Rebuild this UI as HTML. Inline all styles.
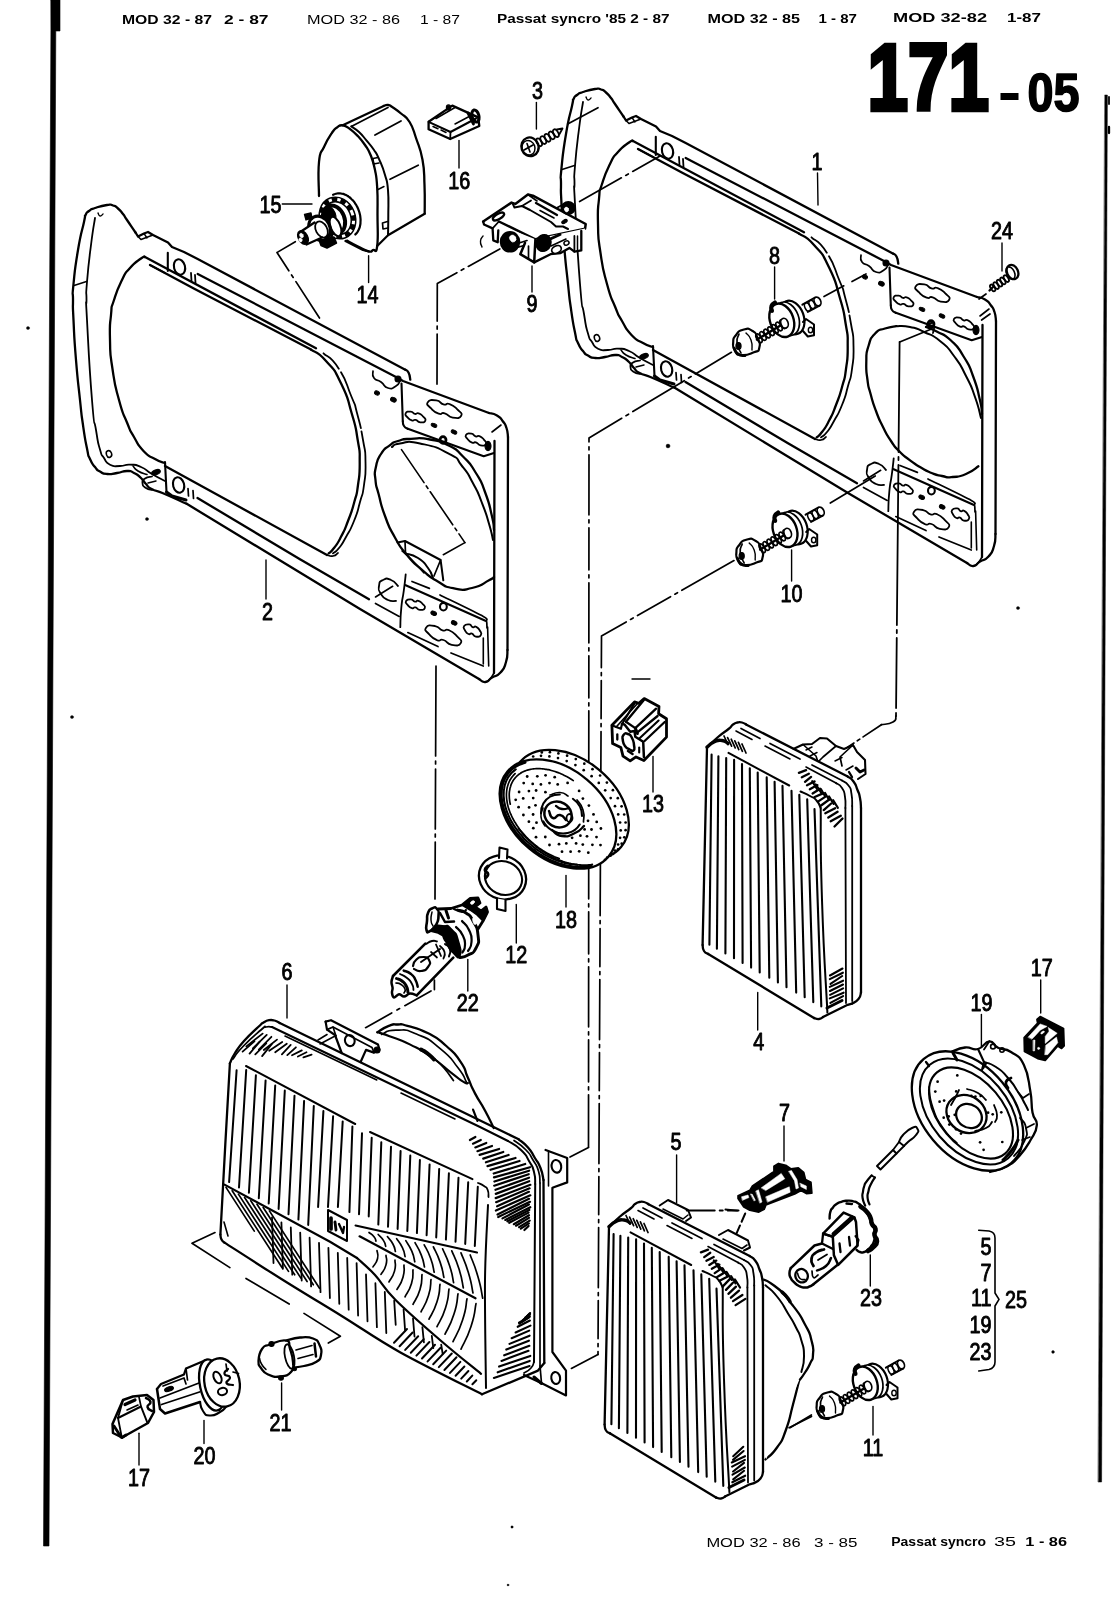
<!DOCTYPE html>
<html><head><meta charset="utf-8"><title>171-05</title>
<style>
html,body{margin:0;padding:0;background:#fff;}
body{width:1113px;height:1600px;overflow:hidden;font-family:"Liberation Sans",sans-serif;}
svg{display:block;}
svg text{font-family:"Liberation Sans",sans-serif;fill:#000;}
.lb{font-weight:normal;}
</style></head><body>
<svg width="1113" height="1600" viewBox="0 0 1113 1600" fill="none">
<rect x="0" y="0" width="1113" height="1600" fill="#fff" stroke="none"/>
<defs><filter id="soft" x="0" y="0" width="1113" height="1600" filterUnits="userSpaceOnUse"><feGaussianBlur stdDeviation="0.4"/></filter></defs>
<g stroke="#000" stroke-linecap="round" stroke-linejoin="round" fill="none" filter="url(#soft)">
<path d="M51 0 L60 0 L60 31 L55.8 31 L49 1546 L43.5 1546 L50.9 31 Z" fill="#000" stroke-width="0.6"/>
<path d="M1105 95 L1107.4 95 L1101.6 1482 L1098.4 1482 Z" fill="#000" stroke-width="0.5"/>
<path d="M1109 97 L1109 104" stroke-width="1.8" fill="none" />
<path d="M1109 127 L1109 133" stroke-width="2.3" fill="none" />
<text x="122" y="24.4" font-size="12.5" font-weight="bold" textLength="90" lengthAdjust="spacingAndGlyphs" class="hd" stroke="none">MOD 32 - 87</text>
<text x="224" y="24.4" font-size="12.5" font-weight="bold" textLength="44.5" lengthAdjust="spacingAndGlyphs" class="hd" stroke="none">2 - 87</text>
<text x="307" y="23.8" font-size="12.5" font-weight="normal" textLength="93" lengthAdjust="spacingAndGlyphs" class="hd" stroke="none">MOD 32 - 86</text>
<text x="420" y="23.8" font-size="12.5" font-weight="normal" textLength="40" lengthAdjust="spacingAndGlyphs" class="hd" stroke="none">1 - 87</text>
<text x="497" y="23.2" font-size="12.5" font-weight="bold" textLength="172.5" lengthAdjust="spacingAndGlyphs" class="hd" stroke="none">Passat syncro '85  2 - 87</text>
<text x="707.5" y="22.6" font-size="12.5" font-weight="bold" textLength="92.5" lengthAdjust="spacingAndGlyphs" class="hd" stroke="none">MOD 32 - 85</text>
<text x="818.5" y="22.6" font-size="12.5" font-weight="bold" textLength="38.5" lengthAdjust="spacingAndGlyphs" class="hd" stroke="none">1 - 87</text>
<text x="893" y="21.8" font-size="12.5" font-weight="bold" textLength="94" lengthAdjust="spacingAndGlyphs" class="hd" stroke="none">MOD 32-82</text>
<text x="1007" y="21.8" font-size="12.5" font-weight="bold" textLength="34" lengthAdjust="spacingAndGlyphs" class="hd" stroke="none">1-87</text>
<text x="867.5" y="109.8" font-size="95" font-weight="bold" textLength="121.5" lengthAdjust="spacingAndGlyphs" class="hd" stroke-width="4.5" stroke-linejoin="miter">171</text>
<path d="M1000.5 96.5 L1018.5 96.5" stroke-width="7" stroke-linecap="butt"/>
<text x="1027.5" y="111.2" font-size="53" font-weight="bold" textLength="52" lengthAdjust="spacingAndGlyphs" class="hd" stroke-width="1.6">05</text>
<text x="706.4" y="1547.2" font-size="12.5" font-weight="normal" textLength="94.3" lengthAdjust="spacingAndGlyphs" class="hd" stroke="none">MOD 32 - 86</text>
<text x="814" y="1547" font-size="12.5" font-weight="normal" textLength="43.5" lengthAdjust="spacingAndGlyphs" class="hd" stroke="none">3 - 85</text>
<text x="891.3" y="1546.3" font-size="12.5" font-weight="bold" textLength="94.7" lengthAdjust="spacingAndGlyphs" class="hd" stroke="none">Passat syncro</text>
<text x="994" y="1546" font-size="12.5" font-weight="normal" textLength="22" lengthAdjust="spacingAndGlyphs" class="hd" stroke="none">35</text>
<text x="1025.3" y="1546" font-size="12.5" font-weight="bold" textLength="41.7" lengthAdjust="spacingAndGlyphs" class="hd" stroke="none">1 - 86</text>
<text transform="translate(817 169.7) scale(0.86 1)" text-anchor="middle" font-size="23" class="lb" stroke-width="0.9">1</text>
<path d="M817.5 173 L818 205" stroke-width="1.4"/>
<text transform="translate(267.5 619.8) scale(0.86 1)" text-anchor="middle" font-size="23" class="lb" stroke-width="0.9">2</text>
<path d="M266 560 L266 599" stroke-width="1.4"/>
<text transform="translate(537.5 98.7) scale(0.86 1)" text-anchor="middle" font-size="23" class="lb" stroke-width="0.9">3</text>
<path d="M536.4 102.5 L536.4 129" stroke-width="1.4"/>
<text transform="translate(758.8 1050.2) scale(0.86 1)" text-anchor="middle" font-size="23" class="lb" stroke-width="0.9">4</text>
<path d="M757.7 992.4 L757.7 1030" stroke-width="1.4"/>
<text transform="translate(676 1150.2) scale(0.86 1)" text-anchor="middle" font-size="23" class="lb" stroke-width="0.9">5</text>
<path d="M676.6 1155 L676.6 1202.5" stroke-width="1.4"/>
<text transform="translate(287 980.2) scale(0.86 1)" text-anchor="middle" font-size="23" class="lb" stroke-width="0.9">6</text>
<path d="M287 985 L287 1018" stroke-width="1.4"/>
<text transform="translate(784.5 1121.2) scale(0.86 1)" text-anchor="middle" font-size="23" class="lb" stroke-width="0.9">7</text>
<path d="M784 1126 L784 1161" stroke-width="1.4"/>
<text transform="translate(774.6 263.5) scale(0.86 1)" text-anchor="middle" font-size="23" class="lb" stroke-width="0.9">8</text>
<path d="M774.6 267 L774.6 299" stroke-width="1.4"/>
<text transform="translate(532 312.2) scale(0.86 1)" text-anchor="middle" font-size="23" class="lb" stroke-width="0.9">9</text>
<path d="M532 266 L532 292" stroke-width="1.4"/>
<text transform="translate(791.6 602.2) scale(0.86 1)" text-anchor="middle" font-size="23" class="lb" stroke-width="0.9">10</text>
<path d="M791.6 550 L791.6 581" stroke-width="1.4"/>
<text transform="translate(873 1456) scale(0.86 1)" text-anchor="middle" font-size="23" class="lb" stroke-width="0.9">11</text>
<path d="M873 1406.5 L873 1435" stroke-width="1.4"/>
<text transform="translate(516.3 963.2) scale(0.86 1)" text-anchor="middle" font-size="23" class="lb" stroke-width="0.9">12</text>
<path d="M516.3 904.5 L516.3 943" stroke-width="1.4"/>
<text transform="translate(653 812.2) scale(0.86 1)" text-anchor="middle" font-size="23" class="lb" stroke-width="0.9">13</text>
<path d="M653 756.5 L653 792" stroke-width="1.4"/>
<text transform="translate(367.5 302.8) scale(0.86 1)" text-anchor="middle" font-size="23" class="lb" stroke-width="0.9">14</text>
<path d="M368.6 255.7 L368.6 282.5" stroke-width="1.4"/>
<text transform="translate(270.5 213.2) scale(0.86 1)" text-anchor="middle" font-size="23" class="lb" stroke-width="0.9">15</text>
<path d="M282.3 204 L312 204" stroke-width="1.4"/>
<text transform="translate(459.2 188.5) scale(0.86 1)" text-anchor="middle" font-size="23" class="lb" stroke-width="0.9">16</text>
<path d="M459 140.4 L459 168" stroke-width="1.4"/>
<text transform="translate(1041.8 976.2) scale(0.86 1)" text-anchor="middle" font-size="23" class="lb" stroke-width="0.9">17</text>
<path d="M1040.7 980 L1040.7 1013" stroke-width="1.4"/>
<text transform="translate(139 1485.9) scale(0.86 1)" text-anchor="middle" font-size="23" class="lb" stroke-width="0.9">17</text>
<path d="M139 1433.3 L139 1465" stroke-width="1.4"/>
<text transform="translate(566 927.7) scale(0.86 1)" text-anchor="middle" font-size="23" class="lb" stroke-width="0.9">18</text>
<path d="M566 875.5 L566 907" stroke-width="1.4"/>
<text transform="translate(981.4 1010.7) scale(0.86 1)" text-anchor="middle" font-size="23" class="lb" stroke-width="0.9">19</text>
<path d="M981.4 1014.5 L981.4 1047.5" stroke-width="1.4"/>
<text transform="translate(204.5 1463.7) scale(0.86 1)" text-anchor="middle" font-size="23" class="lb" stroke-width="0.9">20</text>
<path d="M204 1420.5 L204 1443.5" stroke-width="1.4"/>
<text transform="translate(280.4 1431) scale(0.86 1)" text-anchor="middle" font-size="23" class="lb" stroke-width="0.9">21</text>
<path d="M281.6 1383 L281.6 1410" stroke-width="1.4"/>
<text transform="translate(467.8 1010.7) scale(0.86 1)" text-anchor="middle" font-size="23" class="lb" stroke-width="0.9">22</text>
<path d="M467.8 959.4 L467.8 991" stroke-width="1.4"/>
<text transform="translate(871 1306.2) scale(0.86 1)" text-anchor="middle" font-size="23" class="lb" stroke-width="0.9">23</text>
<path d="M870.3 1255 L870.3 1286" stroke-width="1.4"/>
<text transform="translate(1002 239.2) scale(0.86 1)" text-anchor="middle" font-size="23" class="lb" stroke-width="0.9">24</text>
<path d="M1002 243 L1002 271" stroke-width="1.4"/>
<text transform="translate(991.5 1254.7) scale(0.86 1)" text-anchor="end" font-size="23" class="lb" stroke-width="0.9">5</text>
<text transform="translate(991.5 1281.2) scale(0.86 1)" text-anchor="end" font-size="23" class="lb" stroke-width="0.9">7</text>
<text transform="translate(991.5 1306.2) scale(0.86 1)" text-anchor="end" font-size="23" class="lb" stroke-width="0.9">11</text>
<text transform="translate(991.5 1332.7) scale(0.86 1)" text-anchor="end" font-size="23" class="lb" stroke-width="0.9">19</text>
<text transform="translate(991.5 1360.4) scale(0.86 1)" text-anchor="end" font-size="23" class="lb" stroke-width="0.9">23</text>
<text transform="translate(1016 1307.6) scale(0.86 1)" text-anchor="middle" font-size="23" class="lb" stroke-width="0.9">25</text>
<path d="M978.7 1230.2 L989 1231 Q995 1232 995 1238 L995 1293 L999 1299.4 L995 1306 L995 1362 Q995 1368 989 1369.5 L978.7 1371" stroke-width="1.6"/>
<circle cx="28" cy="328" r="1.6" fill="#000" stroke-width="0.3"/>
<circle cx="72" cy="717" r="1.6" fill="#000" stroke-width="0.3"/>
<circle cx="147" cy="519" r="1.6" fill="#000" stroke-width="0.3"/>
<circle cx="668" cy="446" r="2.0" fill="#000" stroke-width="0.3"/>
<circle cx="1018" cy="608" r="1.6" fill="#000" stroke-width="0.3"/>
<circle cx="1053" cy="1352" r="1.4" fill="#000" stroke-width="0.3"/>
<circle cx="512" cy="1527" r="1.2" fill="#000" stroke-width="0.3"/>
<circle cx="508" cy="1585" r="1.0" fill="#000" stroke-width="0.3"/>
<path d="M632 679 L650 679" stroke-width="1.4" fill="none" />
<g transform="translate(0 0)">
<path d="M186.7 503.8 C178.6 500.2 174.1 497.9 162.4 493 C150.7 488.1 157.1 492 151.6 489 C146.1 486 149.5 487.7 146 484 C142.5 480.3 145 481.7 141 478 C137 474.3 138.7 475.3 134 473 C129.3 470.7 132.7 471 127 471 C121.3 471 123.7 472 117 473 C110.3 474 112.7 474.5 107 474 C101.3 473.5 104 473.8 100 471.5 C96 469.2 98.3 471.2 95 467 C91.7 462.8 92.7 465.2 90 459 C87.3 452.8 89.3 459.8 87 448.5 C84.7 437.2 85.3 441.2 83 425 C80.7 408.8 82.3 421.7 80 400 C77.7 378.3 78.2 386.7 76 360 C73.8 333.3 74.5 340 73.5 320 C72.5 300 73 312 73 300 C73 288 71.8 300.7 73.5 284 C75.2 267.3 74.5 270.7 78 250 C81.5 229.3 81.5 233.7 84 222 C86.5 210.3 83.9 218.7 85.6 215 C87.3 211.3 85.9 213.3 89 211 C92.1 208.7 89 210 95 208 C101 206 101 205.8 107 205 C113 204.2 109.3 204.3 113 205.5 C116.7 206.7 114.7 205.7 118 208.5 C121.3 211.3 120 210.2 123 214 C126 217.8 122.8 213.8 127 220 C131.2 226.2 132.7 228.3 135.5 232.5" stroke-width="2.3" fill="none" />
<path d="M135.5 232.5 L138 236.5 L144 233.5 L148 232 L153 235 L168 242.5 L172 247 L184 252 L197.7 259 L405.3 369.7" stroke-width="2.3" fill="none" />
<path d="M138 236.5 L141 239.5 L153 235" stroke-width="1.6" fill="none" />
<path d="M144 233.5 L147 238" stroke-width="1.4" fill="none" />
<path d="M405.3 369.7 C406.4 370.6 406.8 369.2 408.5 372.5 C410.2 375.8 409.7 377.3 410.3 379.7" stroke-width="2.3" fill="none" />
<path d="M197.7 274 L396.5 377.2 L403 381 L489 413" stroke-width="2.3" fill="none" />
<path d="M489 413 C491.7 413.8 492.5 412.8 497 415.5 C501.5 418.2 499.4 416.8 502.6 421 C505.8 425.2 504.7 422.7 506.5 428 C508.3 433.3 507.5 434 508 437" stroke-width="2.3" fill="none" />
<path d="M508 437 L507.5 650" stroke-width="2.3" fill="none" />
<path d="M507.5 650 C507 654 508.3 654.5 506 662 C503.7 669.5 505.2 667.3 500.5 672.5 C495.8 677.7 497 674.3 492 677.5 C487 680.7 489.7 681.5 485.4 682 C481.1 682.5 481.1 680 479 679" stroke-width="2.3" fill="none" />
<path d="M479 679 L360 609 L186.7 503.8" stroke-width="2.3" fill="none" />
<path d="M494.5 441 L494 673" stroke-width="2.3" fill="none" />
<path d="M494 673 C492.7 675 492.9 676 490 679 C487.1 682 486.9 681 485.4 682" stroke-width="1.7" fill="none" />
<path d="M492 432 L501 425" stroke-width="1.6" fill="none" />
<path d="M95 218 C93.7 227 93.7 223.7 91 245 C88.3 266.3 88.5 263.7 87 282 C85.5 300.3 86.5 287.3 86.5 300 C86.5 312.7 85.2 286.7 87 320 C88.8 353.3 89 363.3 92 400 C95 436.7 93.3 413.5 96 430 C98.7 446.5 97.3 440.2 100 449.5 C102.7 458.8 100.7 452.9 104 458 C107.3 463.1 104.7 462 110 464.7 C115.3 467.4 113.3 466 120 466 C126.7 466 123 464.4 130 464.7 C137 465 133.7 463.9 141 467 C148.3 470.1 144 469.3 152 474 C160 478.7 160.7 478.7 165 481" stroke-width="1.8" fill="none" />
<path d="M74 285.5 L86.5 281.5" stroke-width="1.6" fill="none" />
<ellipse cx="109" cy="454" rx="2.6" ry="3.4" transform="rotate(-20 109 454)" stroke-width="1.5" fill="none" />
<path d="M98 213 C98.7 214 98.3 215.7 100 216 C101.7 216.3 102 214.7 103 214" stroke-width="1.4" fill="none" />
<path d="M145 257 C143.7 257.5 146 254.8 141 258.5 C136 262.2 136.3 260.8 130 268 C123.7 275.2 127.3 269.3 122 280 C116.7 290.7 117.7 288.3 114 300 C110.3 311.7 112.3 301.7 111 315 C109.7 328.3 109.5 322 110 340 C110.5 358 109.5 349 112.5 369 C115.5 389 114.2 382.2 119 400 C123.8 417.8 122 410.2 127 422.5 C132 434.8 128.5 427.5 134 437 C139.5 446.5 136.5 443.7 143.5 451 C150.5 458.3 147.8 454.9 155 459 C162.2 463.1 161.7 461.9 165 463.3" stroke-width="2.3" fill="none" />
<path d="M145 257 L316 348.3" stroke-width="2.3" fill="none" />
<path d="M150 265 L195.2 289.2 L311 349.6" stroke-width="2.3" fill="none" />
<path d="M311 349.6 C316 353.4 316 349.6 326 360.9 C336 372.2 332.6 366.1 341.1 383.5 C349.6 400.9 346.1 394.2 351.6 413 C357.1 431.8 355 423.8 357.7 440 C360.4 456.2 359.6 446.7 359.7 461.7 C359.8 476.7 359.8 471.6 358 485 C356.2 498.4 357.6 490 354.3 502 C351 514 352.5 509.3 348 521 C343.5 532.7 345.6 528 340.9 537 C336.2 546 338.1 542.5 334 548 C329.9 553.5 330.5 551.6 328.7 553.4" stroke-width="2.3" fill="none" />
<path d="M323.5 353.3 C328.5 358.3 329.4 354.2 338.6 368.4 C347.8 382.6 345.1 381.1 351.2 396 C357.3 410.9 353.1 398.3 357 413 C360.9 427.7 360.2 423.8 363 440 C365.8 456.2 365.2 446.7 365.5 461.7 C365.8 476.7 365.8 471.6 364 485 C362.2 498.4 363.3 490 360 502 C356.7 514 358.7 509.3 354 521 C349.3 532.7 351 528 346 537 C341 546 343.3 542.5 339 548 C334.7 553.5 335 551.6 333 553.4" stroke-width="1.8" fill="none" stroke-dasharray="22 4 60 3 200"/>
<path d="M165 466 L327 555" stroke-width="2.3" fill="none" />
<path d="M327 555 C329 555.3 329.3 556.7 333 556 C336.7 555.3 336.3 554 338 553" stroke-width="1.7" fill="none" />
<path d="M197.5 498 L300 559.3 L369 599.2" stroke-width="2.3" fill="none" />
<path d="M167.8 252.8 L167.8 271" stroke-width="2.1" fill="none" />
<ellipse cx="179.5" cy="267" rx="5.5" ry="7.8" transform="rotate(-15 179.5 267)" stroke-width="2.1" fill="none" />
<path d="M191 273 L191.5 281" stroke-width="1.8" fill="none" />
<path d="M195 275 L195.5 283" stroke-width="1.8" fill="none" />
<path d="M150 265 L165 273" stroke-width="1.8" fill="none" />
<path d="M165 462 L166.5 492" stroke-width="2.1" fill="none" />
<ellipse cx="178.6" cy="485" rx="5.5" ry="7.8" transform="rotate(-15 178.6 485)" stroke-width="2.1" fill="none" />
<path d="M188 488.5 L188.5 496" stroke-width="1.7" fill="none" />
<path d="M193 490.5 L193.5 498.5" stroke-width="1.7" fill="none" />
<ellipse cx="156" cy="472.3" rx="4.5" ry="2.4" transform="rotate(-20 156 472.3)" stroke-width="1.1" fill="#000" />
<path d="M152 476.5 C149.7 477.2 148.2 476.3 145 478.5 C141.8 480.7 142.2 479.8 142.5 483 C142.8 486.2 142.8 485.7 146 488 C149.2 490.3 150 489.3 152 490" stroke-width="1.8" fill="none" />
<path d="M133 466 C134.7 467.7 133.3 468.2 138 471 C142.7 473.8 144 473.3 147 474.5" stroke-width="1.6" fill="none" />
<path d="M166.5 492 L172 496 L186 500" stroke-width="3" fill="none" />
<path d="M148 483 L156 481" stroke-width="1.5" fill="none" />
<path d="M401.5 383.5 L402.8 421.3" stroke-width="2.1" fill="none" />
<path d="M402.8 421.3 C403.2 422.9 402.3 423.5 404 426 C405.7 428.5 406.5 427.9 407.8 428.8" stroke-width="2.1" fill="none" />
<path d="M407.8 428.8 L483.7 456.3 L494 453" stroke-width="2.1" fill="none" />
<g transform="translate(415.5 417.0) rotate(20)">
<path d="M-10.5 0 C-10.2 -2.2 -9.3 -2.5 -6.3 -3.4 C-3.3 -4.3 -4.2 -2.3 -1.6 -2.7 C1.1 -3.1 -1.2 -4.3 1.6 -4.5 C4.4 -4.7 3.9 -4.7 6.8 -3.1 C9.8 -1.6 10.7 -2.2 10.5 0 C10.3 2.2 9.4 2.5 6.3 3.4 C3.1 4.3 3.9 2.3 1.1 2.7 C-1.8 3.1 0.7 4.3 -2.1 4.5 C-4.9 4.7 -4.5 4.7 -7.3 3.1 C-10.2 1.6 -10.8 2.2 -10.5 0Z" stroke-width="1.8" fill="none" />
</g>
<g transform="translate(444.5 409.0) rotate(22)">
<path d="M-18 0 C-17.4 -3.1 -15.9 -3.6 -10.8 -4.9 C-5.7 -6.2 -7.2 -3.4 -2.7 -3.9 C1.8 -4.4 -2.1 -6.3 2.7 -6.5 C7.5 -6.7 6.6 -6.7 11.7 -4.5 C16.8 -2.4 18.3 -3.1 18 0 C17.7 3.1 16.2 3.6 10.8 4.9 C5.4 6.2 6.6 3.4 1.8 3.9 C-3 4.4 1.2 6.3 -3.6 6.5 C-8.4 6.7 -7.8 6.7 -12.6 4.5 C-17.4 2.4 -18.6 3.1 -18 0Z" stroke-width="1.8" fill="none" />
</g>
<g transform="translate(476.0 439.5) rotate(24)">
<path d="M-11 0 C-10.6 -2.2 -9.7 -2.5 -6.6 -3.4 C-3.5 -4.3 -4.4 -2.3 -1.6 -2.7 C1.1 -3.1 -1.3 -4.3 1.6 -4.5 C4.6 -4.7 4 -4.7 7.2 -3.1 C10.3 -1.6 11.2 -2.2 11 0 C10.8 2.2 9.9 2.5 6.6 3.4 C3.3 4.3 4 2.3 1.1 2.7 C-1.8 3.1 0.7 4.3 -2.2 4.5 C-5.1 4.7 -4.8 4.7 -7.7 3.1 C-10.6 1.6 -11.4 2.2 -11 0Z" stroke-width="1.8" fill="none" />
</g>
<ellipse cx="434" cy="425.3" rx="3" ry="1.8" transform="rotate(25 434 425.3)" stroke-width="0.9" fill="#000" />
<ellipse cx="454" cy="432" rx="3" ry="1.8" transform="rotate(25 454 432)" stroke-width="0.9" fill="#000" />
<ellipse cx="443" cy="440" rx="3" ry="3.4" transform="rotate(0 443 440)" stroke-width="2.8" fill="none" />
<ellipse cx="488" cy="446" rx="3" ry="4.6" transform="rotate(0 488 446)" stroke-width="1.1" fill="#000" />
<path d="M373 371 C373.3 373.3 371.3 374.3 374 378 C376.7 381.7 376.3 378.7 381 382 C385.7 385.3 383 386.7 388 388 C393 389.3 392 388.3 396 386 C400 383.7 398.7 382.7 400 381" stroke-width="1.7" fill="none" />
<ellipse cx="377" cy="393" rx="2.6" ry="2" transform="rotate(25 377 393)" stroke-width="0.9" fill="#000" />
<ellipse cx="393.4" cy="399.7" rx="3" ry="2.2" transform="rotate(25 393.4 399.7)" stroke-width="0.9" fill="#000" />
<ellipse cx="398" cy="379" rx="3" ry="3" transform="rotate(0 398 379)" stroke-width="1.1" fill="#000" />
<path d="M405.7 585.2 L485.4 620.8" stroke-width="2.1" fill="none" />
<path d="M412 581.5 L429.4 588.4" stroke-width="1.7" fill="none" />
<path d="M440 595 C445.8 597.9 477.1 612.9 483.3 616.4 C489.5 619.9 486 619.5 486.5 621 C487 622.5 486.9 627.1 487 628" stroke-width="1.7" fill="none" />
<path d="M405.7 574.4 C405.1 579.8 405.3 579.5 403.8 590.6 C402.3 601.7 402.5 595.6 401.3 607.8 C400.1 620 400.6 620.7 400.3 627.2" stroke-width="1.8" fill="none" />
<path d="M398 586 C395.7 584 396 582 391 580 C386 578 387 578 383 580 C379 582 379.7 581.3 379 586 C378.3 590.7 378 589.3 381 594 C384 598.7 383 597.7 388 600 C393 602.3 393.3 600.7 396 601" stroke-width="1.8" fill="none" />
<path d="M375.5 603.5 L399.2 616.4" stroke-width="1.7" fill="none" />
<path d="M375.5 597 L392.7 586.3" stroke-width="1.6" fill="none" />
<g transform="translate(415.4 604.6) rotate(20)">
<path d="M-10 0 C-9.7 -2.2 -8.8 -2.5 -6 -3.4 C-3.2 -4.3 -4 -2.3 -1.5 -2.7 C1 -3.1 -1.2 -4.3 1.5 -4.5 C4.2 -4.7 3.7 -4.7 6.5 -3.1 C9.3 -1.6 10.2 -2.2 10 0 C9.8 2.2 9 2.5 6 3.4 C3 4.3 3.7 2.3 1 2.7 C-1.7 3.1 0.7 4.3 -2 4.5 C-4.7 4.7 -4.3 4.7 -7 3.1 C-9.7 1.6 -10.3 2.2 -10 0Z" stroke-width="1.8" fill="none" />
</g>
<g transform="translate(443.4 635.4) rotate(24)">
<path d="M-19 0 C-18.4 -3.4 -16.8 -3.8 -11.4 -5.2 C-6 -6.7 -7.6 -3.6 -2.9 -4.2 C1.9 -4.8 -2.2 -6.8 2.9 -7 C7.9 -7.2 7 -7.2 12.3 -4.9 C17.7 -2.6 19.3 -3.4 19 0 C18.7 3.4 17.1 3.8 11.4 5.2 C5.7 6.7 7 3.6 1.9 4.2 C-3.2 4.8 1.3 6.8 -3.8 7 C-8.9 7.2 -8.2 7.2 -13.3 4.9 C-18.4 2.6 -19.6 3.4 -19 0Z" stroke-width="1.8" fill="none" />
</g>
<g transform="translate(472.5 630.5) rotate(28)">
<path d="M-9.5 0 C-9.2 -2.4 -8.4 -2.8 -5.7 -3.8 C-3 -4.8 -3.8 -2.6 -1.4 -3 C0.9 -3.4 -1.1 -4.8 1.4 -5 C4 -5.2 3.5 -5.2 6.2 -3.5 C8.9 -1.8 9.7 -2.4 9.5 0 C9.3 2.4 8.6 2.8 5.7 3.8 C2.9 4.8 3.5 2.6 1 3 C-1.6 3.4 0.6 4.8 -1.9 5 C-4.4 5.2 -4.1 5.2 -6.6 3.5 C-9.2 1.8 -9.8 2.4 -9.5 0Z" stroke-width="1.8" fill="none" />
</g>
<ellipse cx="433.7" cy="613.2" rx="3" ry="2" transform="rotate(25 433.7 613.2)" stroke-width="0.9" fill="#000" />
<ellipse cx="443.4" cy="606.7" rx="3.4" ry="3.8" transform="rotate(0 443.4 606.7)" stroke-width="2.1" fill="none" />
<ellipse cx="454.2" cy="622.9" rx="3" ry="2" transform="rotate(25 454.2 622.9)" stroke-width="0.9" fill="#000" />
<path d="M407.8 632.6 L438 646.6" stroke-width="1.7" fill="none" />
<path d="M451 653 L483.3 666" stroke-width="1.7" fill="none" />
<path d="M483.3 638 L483.3 664" stroke-width="1.6" fill="none" />
<path d="M487.6 627 L488.7 666" stroke-width="1.6" fill="none" />
<path d="M494 530 C493.3 525.2 494.8 528.3 491.8 515.6 C488.8 502.9 490.4 506.4 485 492 C479.6 477.6 482.9 484.3 475.6 472.5 C468.3 460.7 472 465.5 463 456.5 C454 447.5 459.7 451.3 448.7 445.6 C437.7 439.9 442.6 441.8 430 439.5 C417.4 437.2 421.7 438.3 411 438.8 C400.3 439.3 405.2 438.7 398 441 C390.8 443.3 395.1 441.3 389.4 445.6 C383.7 449.9 385.5 446.8 381 454 C376.5 461.2 377.7 458.4 375.9 467.1 C374.1 475.8 374.6 471 375.5 480 C376.4 489 375.4 482 378.6 494 C381.8 506 379.6 501.6 385 516 C390.4 530.4 387.5 524.2 394.8 537.2 C402.1 550.2 398 544.2 407 555 C416 565.8 411.7 560.8 421.7 569.5 C431.7 578.2 426.2 574.7 437 581 C447.8 587.3 442.3 586.1 454 588.4 C465.7 590.7 460.3 590.7 472 588 C483.7 585.3 481.7 584 489 580.3 C496.3 576.6 492.3 578.1 494 577" stroke-width="2.3" fill="none" />
<path d="M392 447 C394.7 445.8 390.7 444.7 400 443.5 C409.3 442.3 403.8 440.1 420 443.5 C436.2 446.9 434.7 446.1 448.7 453.6 C462.7 461.1 453.9 456.1 462 466 C470.1 475.9 466.3 471 473 483.3 C479.7 495.6 476.7 489.5 482 503 C487.3 516.5 485.3 511.4 489 523.7 C492.7 536 491.7 534.6 493 540" stroke-width="2" fill="none" />
<path d="M401.5 449.6 L464.9 542.6" stroke-width="1.6" fill="none" stroke-dasharray="40 4 3 4"/>
<path d="M464.9 542.6 L443.3 554.7" stroke-width="1.6" fill="none" />
<path d="M397.5 542.6 L405 541 L440.6 560 L443.3 580.3" stroke-width="2" fill="none" />
<path d="M405 541 L405.5 553.4" stroke-width="1.7" fill="none" />
<path d="M405.5 553.4 C409.7 554.9 410.5 553.1 418 558 C425.5 562.9 423 561.3 428 568 C433 574.7 431.3 574.7 433 578" stroke-width="2" fill="none" />
<path d="M402 551 C405.3 554 404.7 552.7 412 560 C419.3 567.3 420 568.7 424 573" stroke-width="1.5" fill="none" />
<path d="M440.6 560 L434 576" stroke-width="1.7" fill="none" />
</g>
<g transform="translate(488 -116)">
<path d="M186.7 503.8 C178.6 500.2 174.1 497.9 162.4 493 C150.7 488.1 157.1 492 151.6 489 C146.1 486 149.5 487.7 146 484 C142.5 480.3 145 481.7 141 478 C137 474.3 138.7 475.3 134 473 C129.3 470.7 132.7 471 127 471 C121.3 471 123.7 472 117 473 C110.3 474 112.7 474.5 107 474 C101.3 473.5 104 473.8 100 471.5 C96 469.2 98.3 471.2 95 467 C91.7 462.8 92.7 465.2 90 459 C87.3 452.8 89.3 459.8 87 448.5 C84.7 437.2 85.3 441.2 83 425 C80.7 408.8 82.3 421.7 80 400 C77.7 378.3 78.2 386.7 76 360 C73.8 333.3 74.5 340 73.5 320 C72.5 300 73 312 73 300 C73 288 71.8 300.7 73.5 284 C75.2 267.3 74.5 270.7 78 250 C81.5 229.3 81.5 233.7 84 222 C86.5 210.3 83.9 218.7 85.6 215 C87.3 211.3 85.9 213.3 89 211 C92.1 208.7 89 210 95 208 C101 206 101 205.8 107 205 C113 204.2 109.3 204.3 113 205.5 C116.7 206.7 114.7 205.7 118 208.5 C121.3 211.3 120 210.2 123 214 C126 217.8 122.8 213.8 127 220 C131.2 226.2 132.7 228.3 135.5 232.5" stroke-width="2.3" fill="none" />
<path d="M135.5 232.5 L138 236.5 L144 233.5 L148 232 L153 235 L168 242.5 L172 247 L184 252 L197.7 259 L405.3 369.7" stroke-width="2.3" fill="none" />
<path d="M138 236.5 L141 239.5 L153 235" stroke-width="1.6" fill="none" />
<path d="M144 233.5 L147 238" stroke-width="1.4" fill="none" />
<path d="M405.3 369.7 C406.4 370.6 406.8 369.2 408.5 372.5 C410.2 375.8 409.7 377.3 410.3 379.7" stroke-width="2.3" fill="none" />
<path d="M197.7 274 L396.5 377.2 L403 381 L489 413" stroke-width="2.3" fill="none" />
<path d="M489 413 C491.7 413.8 492.5 412.8 497 415.5 C501.5 418.2 499.4 416.8 502.6 421 C505.8 425.2 504.7 422.7 506.5 428 C508.3 433.3 507.5 434 508 437" stroke-width="2.3" fill="none" />
<path d="M508 437 L507.5 650" stroke-width="2.3" fill="none" />
<path d="M507.5 650 C507 654 508.3 654.5 506 662 C503.7 669.5 505.2 667.3 500.5 672.5 C495.8 677.7 497 674.3 492 677.5 C487 680.7 489.7 681.5 485.4 682 C481.1 682.5 481.1 680 479 679" stroke-width="2.3" fill="none" />
<path d="M479 679 L360 609 L186.7 503.8" stroke-width="2.3" fill="none" />
<path d="M494.5 441 L494 673" stroke-width="2.3" fill="none" />
<path d="M494 673 C492.7 675 492.9 676 490 679 C487.1 682 486.9 681 485.4 682" stroke-width="1.7" fill="none" />
<path d="M492 432 L501 425" stroke-width="1.6" fill="none" />
<path d="M95 218 C93.7 227 93.7 223.7 91 245 C88.3 266.3 88.5 263.7 87 282 C85.5 300.3 86.5 287.3 86.5 300 C86.5 312.7 85.2 286.7 87 320 C88.8 353.3 89 363.3 92 400 C95 436.7 93.3 413.5 96 430 C98.7 446.5 97.3 440.2 100 449.5 C102.7 458.8 100.7 452.9 104 458 C107.3 463.1 104.7 462 110 464.7 C115.3 467.4 113.3 466 120 466 C126.7 466 123 464.4 130 464.7 C137 465 133.7 463.9 141 467 C148.3 470.1 144 469.3 152 474 C160 478.7 160.7 478.7 165 481" stroke-width="1.8" fill="none" />
<path d="M74 285.5 L86.5 281.5" stroke-width="1.6" fill="none" />
<ellipse cx="109" cy="454" rx="2.6" ry="3.4" transform="rotate(-20 109 454)" stroke-width="1.5" fill="none" />
<path d="M98 213 C98.7 214 98.3 215.7 100 216 C101.7 216.3 102 214.7 103 214" stroke-width="1.4" fill="none" />
<path d="M145 257 C143.7 257.5 146 254.8 141 258.5 C136 262.2 136.3 260.8 130 268 C123.7 275.2 127.3 269.3 122 280 C116.7 290.7 117.7 288.3 114 300 C110.3 311.7 112.3 301.7 111 315 C109.7 328.3 109.5 322 110 340 C110.5 358 109.5 349 112.5 369 C115.5 389 114.2 382.2 119 400 C123.8 417.8 122 410.2 127 422.5 C132 434.8 128.5 427.5 134 437 C139.5 446.5 136.5 443.7 143.5 451 C150.5 458.3 147.8 454.9 155 459 C162.2 463.1 161.7 461.9 165 463.3" stroke-width="2.3" fill="none" />
<path d="M145 257 L316 348.3" stroke-width="2.3" fill="none" />
<path d="M150 265 L195.2 289.2 L311 349.6" stroke-width="2.3" fill="none" />
<path d="M311 349.6 C316 353.4 316 349.6 326 360.9 C336 372.2 332.6 366.1 341.1 383.5 C349.6 400.9 346.1 394.2 351.6 413 C357.1 431.8 355 423.8 357.7 440 C360.4 456.2 359.6 446.7 359.7 461.7 C359.8 476.7 359.8 471.6 358 485 C356.2 498.4 357.6 490 354.3 502 C351 514 352.5 509.3 348 521 C343.5 532.7 345.6 528 340.9 537 C336.2 546 338.1 542.5 334 548 C329.9 553.5 330.5 551.6 328.7 553.4" stroke-width="2.3" fill="none" />
<path d="M323.5 353.3 C328.5 358.3 329.4 354.2 338.6 368.4 C347.8 382.6 345.1 381.1 351.2 396 C357.3 410.9 353.1 398.3 357 413 C360.9 427.7 360.2 423.8 363 440 C365.8 456.2 365.2 446.7 365.5 461.7 C365.8 476.7 365.8 471.6 364 485 C362.2 498.4 363.3 490 360 502 C356.7 514 358.7 509.3 354 521 C349.3 532.7 351 528 346 537 C341 546 343.3 542.5 339 548 C334.7 553.5 335 551.6 333 553.4" stroke-width="1.8" fill="none" stroke-dasharray="22 4 60 3 200"/>
<path d="M165 466 L327 555" stroke-width="2.3" fill="none" />
<path d="M327 555 C329 555.3 329.3 556.7 333 556 C336.7 555.3 336.3 554 338 553" stroke-width="1.7" fill="none" />
<path d="M197.5 498 L300 559.3 L369 599.2" stroke-width="2.3" fill="none" />
<path d="M167.8 252.8 L167.8 271" stroke-width="2.1" fill="none" />
<ellipse cx="179.5" cy="267" rx="5.5" ry="7.8" transform="rotate(-15 179.5 267)" stroke-width="2.1" fill="none" />
<path d="M191 273 L191.5 281" stroke-width="1.8" fill="none" />
<path d="M195 275 L195.5 283" stroke-width="1.8" fill="none" />
<path d="M150 265 L165 273" stroke-width="1.8" fill="none" />
<path d="M165 462 L166.5 492" stroke-width="2.1" fill="none" />
<ellipse cx="178.6" cy="485" rx="5.5" ry="7.8" transform="rotate(-15 178.6 485)" stroke-width="2.1" fill="none" />
<path d="M188 488.5 L188.5 496" stroke-width="1.7" fill="none" />
<path d="M193 490.5 L193.5 498.5" stroke-width="1.7" fill="none" />
<ellipse cx="156" cy="472.3" rx="4.5" ry="2.4" transform="rotate(-20 156 472.3)" stroke-width="1.1" fill="#000" />
<path d="M152 476.5 C149.7 477.2 148.2 476.3 145 478.5 C141.8 480.7 142.2 479.8 142.5 483 C142.8 486.2 142.8 485.7 146 488 C149.2 490.3 150 489.3 152 490" stroke-width="1.8" fill="none" />
<path d="M133 466 C134.7 467.7 133.3 468.2 138 471 C142.7 473.8 144 473.3 147 474.5" stroke-width="1.6" fill="none" />
<path d="M166.5 492 L172 496 L186 500" stroke-width="3" fill="none" />
<path d="M148 483 L156 481" stroke-width="1.5" fill="none" />
<path d="M401.5 383.5 L402.8 421.3" stroke-width="2.1" fill="none" />
<path d="M402.8 421.3 C403.2 422.9 402.3 423.5 404 426 C405.7 428.5 406.5 427.9 407.8 428.8" stroke-width="2.1" fill="none" />
<path d="M407.8 428.8 L483.7 456.3 L494 453" stroke-width="2.1" fill="none" />
<g transform="translate(415.5 417.0) rotate(20)">
<path d="M-10.5 0 C-10.2 -2.2 -9.3 -2.5 -6.3 -3.4 C-3.3 -4.3 -4.2 -2.3 -1.6 -2.7 C1.1 -3.1 -1.2 -4.3 1.6 -4.5 C4.4 -4.7 3.9 -4.7 6.8 -3.1 C9.8 -1.6 10.7 -2.2 10.5 0 C10.3 2.2 9.4 2.5 6.3 3.4 C3.1 4.3 3.9 2.3 1.1 2.7 C-1.8 3.1 0.7 4.3 -2.1 4.5 C-4.9 4.7 -4.5 4.7 -7.3 3.1 C-10.2 1.6 -10.8 2.2 -10.5 0Z" stroke-width="1.8" fill="none" />
</g>
<g transform="translate(444.5 409.0) rotate(22)">
<path d="M-18 0 C-17.4 -3.1 -15.9 -3.6 -10.8 -4.9 C-5.7 -6.2 -7.2 -3.4 -2.7 -3.9 C1.8 -4.4 -2.1 -6.3 2.7 -6.5 C7.5 -6.7 6.6 -6.7 11.7 -4.5 C16.8 -2.4 18.3 -3.1 18 0 C17.7 3.1 16.2 3.6 10.8 4.9 C5.4 6.2 6.6 3.4 1.8 3.9 C-3 4.4 1.2 6.3 -3.6 6.5 C-8.4 6.7 -7.8 6.7 -12.6 4.5 C-17.4 2.4 -18.6 3.1 -18 0Z" stroke-width="1.8" fill="none" />
</g>
<g transform="translate(476.0 439.5) rotate(24)">
<path d="M-11 0 C-10.6 -2.2 -9.7 -2.5 -6.6 -3.4 C-3.5 -4.3 -4.4 -2.3 -1.6 -2.7 C1.1 -3.1 -1.3 -4.3 1.6 -4.5 C4.6 -4.7 4 -4.7 7.2 -3.1 C10.3 -1.6 11.2 -2.2 11 0 C10.8 2.2 9.9 2.5 6.6 3.4 C3.3 4.3 4 2.3 1.1 2.7 C-1.8 3.1 0.7 4.3 -2.2 4.5 C-5.1 4.7 -4.8 4.7 -7.7 3.1 C-10.6 1.6 -11.4 2.2 -11 0Z" stroke-width="1.8" fill="none" />
</g>
<ellipse cx="434" cy="425.3" rx="3" ry="1.8" transform="rotate(25 434 425.3)" stroke-width="0.9" fill="#000" />
<ellipse cx="454" cy="432" rx="3" ry="1.8" transform="rotate(25 454 432)" stroke-width="0.9" fill="#000" />
<ellipse cx="443" cy="440" rx="3" ry="3.4" transform="rotate(0 443 440)" stroke-width="2.8" fill="none" />
<ellipse cx="488" cy="446" rx="3" ry="4.6" transform="rotate(0 488 446)" stroke-width="1.1" fill="#000" />
<path d="M373 371 C373.3 373.3 371.3 374.3 374 378 C376.7 381.7 376.3 378.7 381 382 C385.7 385.3 383 386.7 388 388 C393 389.3 392 388.3 396 386 C400 383.7 398.7 382.7 400 381" stroke-width="1.7" fill="none" />
<ellipse cx="377" cy="393" rx="2.6" ry="2" transform="rotate(25 377 393)" stroke-width="0.9" fill="#000" />
<ellipse cx="393.4" cy="399.7" rx="3" ry="2.2" transform="rotate(25 393.4 399.7)" stroke-width="0.9" fill="#000" />
<ellipse cx="398" cy="379" rx="3" ry="3" transform="rotate(0 398 379)" stroke-width="1.1" fill="#000" />
<path d="M405.7 585.2 L485.4 620.8" stroke-width="2.1" fill="none" />
<path d="M412 581.5 L429.4 588.4" stroke-width="1.7" fill="none" />
<path d="M440 595 C445.8 597.9 477.1 612.9 483.3 616.4 C489.5 619.9 486 619.5 486.5 621 C487 622.5 486.9 627.1 487 628" stroke-width="1.7" fill="none" />
<path d="M405.7 574.4 C405.1 579.8 405.3 579.5 403.8 590.6 C402.3 601.7 402.5 595.6 401.3 607.8 C400.1 620 400.6 620.7 400.3 627.2" stroke-width="1.8" fill="none" />
<path d="M398 586 C395.7 584 396 582 391 580 C386 578 387 578 383 580 C379 582 379.7 581.3 379 586 C378.3 590.7 378 589.3 381 594 C384 598.7 383 597.7 388 600 C393 602.3 393.3 600.7 396 601" stroke-width="1.8" fill="none" />
<path d="M375.5 603.5 L399.2 616.4" stroke-width="1.7" fill="none" />
<path d="M375.5 597 L392.7 586.3" stroke-width="1.6" fill="none" />
<g transform="translate(415.4 604.6) rotate(20)">
<path d="M-10 0 C-9.7 -2.2 -8.8 -2.5 -6 -3.4 C-3.2 -4.3 -4 -2.3 -1.5 -2.7 C1 -3.1 -1.2 -4.3 1.5 -4.5 C4.2 -4.7 3.7 -4.7 6.5 -3.1 C9.3 -1.6 10.2 -2.2 10 0 C9.8 2.2 9 2.5 6 3.4 C3 4.3 3.7 2.3 1 2.7 C-1.7 3.1 0.7 4.3 -2 4.5 C-4.7 4.7 -4.3 4.7 -7 3.1 C-9.7 1.6 -10.3 2.2 -10 0Z" stroke-width="1.8" fill="none" />
</g>
<g transform="translate(443.4 635.4) rotate(24)">
<path d="M-19 0 C-18.4 -3.4 -16.8 -3.8 -11.4 -5.2 C-6 -6.7 -7.6 -3.6 -2.9 -4.2 C1.9 -4.8 -2.2 -6.8 2.9 -7 C7.9 -7.2 7 -7.2 12.3 -4.9 C17.7 -2.6 19.3 -3.4 19 0 C18.7 3.4 17.1 3.8 11.4 5.2 C5.7 6.7 7 3.6 1.9 4.2 C-3.2 4.8 1.3 6.8 -3.8 7 C-8.9 7.2 -8.2 7.2 -13.3 4.9 C-18.4 2.6 -19.6 3.4 -19 0Z" stroke-width="1.8" fill="none" />
</g>
<g transform="translate(472.5 630.5) rotate(28)">
<path d="M-9.5 0 C-9.2 -2.4 -8.4 -2.8 -5.7 -3.8 C-3 -4.8 -3.8 -2.6 -1.4 -3 C0.9 -3.4 -1.1 -4.8 1.4 -5 C4 -5.2 3.5 -5.2 6.2 -3.5 C8.9 -1.8 9.7 -2.4 9.5 0 C9.3 2.4 8.6 2.8 5.7 3.8 C2.9 4.8 3.5 2.6 1 3 C-1.6 3.4 0.6 4.8 -1.9 5 C-4.4 5.2 -4.1 5.2 -6.6 3.5 C-9.2 1.8 -9.8 2.4 -9.5 0Z" stroke-width="1.8" fill="none" />
</g>
<ellipse cx="433.7" cy="613.2" rx="3" ry="2" transform="rotate(25 433.7 613.2)" stroke-width="0.9" fill="#000" />
<ellipse cx="443.4" cy="606.7" rx="3.4" ry="3.8" transform="rotate(0 443.4 606.7)" stroke-width="2.1" fill="none" />
<ellipse cx="454.2" cy="622.9" rx="3" ry="2" transform="rotate(25 454.2 622.9)" stroke-width="0.9" fill="#000" />
<path d="M407.8 632.6 L438 646.6" stroke-width="1.7" fill="none" />
<path d="M451 653 L483.3 666" stroke-width="1.7" fill="none" />
<path d="M483.3 638 L483.3 664" stroke-width="1.6" fill="none" />
<path d="M487.6 627 L488.7 666" stroke-width="1.6" fill="none" />
<path d="M494 530 C493.3 525.2 494.8 528.3 491.8 515.6 C488.8 502.9 490.4 506.4 485 492 C479.6 477.6 482.9 484.3 475.6 472.5 C468.3 460.7 472 464.8 463 456.5 C454 448.2 457 452 448.7 447.5 C440.4 443 441.6 444.5 438 443" stroke-width="2.3" fill="none" />
<path d="M408.4 442.1 C404.6 442.9 404.2 442 397 444.5 C389.8 447 392.4 443.9 386.9 449.7 C381.4 455.5 383.4 452.7 380.5 462 C377.6 471.3 378.6 466.4 378.3 477.7 C378 489 378.1 485.2 379.5 496 C380.9 506.8 379.8 499.7 382.6 510 C385.4 520.3 383.9 516 388 527 C392.1 538 390 533 395 543 C400 553 397.7 549 403 557 C408.3 565 404.9 560.7 411 567 C417.1 573.3 414.4 570.5 421.4 575.8 C428.4 581.1 424.8 578.7 432 583 C439.2 587.3 435.6 585.7 442.9 588.7 C450.2 591.7 446.8 590.6 454 592 C461.2 593.4 456.5 593.7 464.5 593 C472.5 592.3 469.4 593.6 478 590 C486.6 586.4 486.3 584.9 490.4 582.3" stroke-width="2.3" fill="none" />
<path d="M408.4 442.1 C412.9 442.4 412.8 441 422 443 C431.2 445 426 443.3 436 448 C446 452.7 442 449 452 457 C462 465 457.3 460.3 466 472 C474.7 483.7 471 478.3 478 492 C485 505.7 482 499 487 513 C492 527 491 527 493 534" stroke-width="2" fill="none" />
<path d="M438 443 C439.7 441.7 440.3 439.3 443 439 C445.7 438.7 445.3 438.7 446 442 C446.7 445.3 445.3 446.7 445 449" stroke-width="1.8" fill="none" />
<path d="M443.5 445 L411.7 458" stroke-width="1.8" fill="none" />
</g>
<g transform="translate(0 0)">
<path d="M733.2 342.4 C733.5 337.3 732.6 339.4 735.9 335.2 C739.2 331 737.7 331.3 743.1 329.8 C748.5 328.3 747.3 328 752.1 330.7 C756.9 333.4 755.1 332.2 757.5 337.9 C759.9 343.6 760.5 343 759.3 347.8 C758.1 352.6 759.9 349.9 753.9 352.3 C747.9 354.7 747.6 355.6 741.3 355 C735 354.4 737.7 354.7 735 350.5 C732.3 346.3 732.9 347.5 733.2 342.4Z" stroke-width="2.2" fill="#fff" />
<path d="M739 334 C738.3 337 736.3 336.7 737 343 C737.7 349.3 739.7 349.7 741 353" stroke-width="1.6" fill="none" />
<ellipse cx="738.5" cy="346" rx="2.6" ry="3.4" transform="rotate(0 738.5 346)" stroke-width="1.1" fill="#000" />
<path d="M746 333 C747.7 335.3 749 334.3 751 340 C753 345.7 751.7 346.7 752 350" stroke-width="1.4" fill="none" />
<path d="M734 348 C735.3 350 734.3 351.5 738 354 C741.7 356.5 742.7 355 745 355.5" stroke-width="3" fill="none" />
<ellipse cx="792" cy="317.5" rx="11.7" ry="17.3" transform="rotate(-20 792 317.5)" stroke-width="2.2" fill="#fff" />
<ellipse cx="787" cy="318.8" rx="11.7" ry="17.3" transform="rotate(-20 787 318.8)" stroke-width="1.7" fill="#fff" />
<ellipse cx="781.8" cy="320.3" rx="11.7" ry="17.3" transform="rotate(-20 781.8 320.3)" stroke-width="2.4" fill="#fff" />
<path d="M772 311 C771.8 309.3 770.5 308.8 771.5 306 C772.5 303.2 773.8 303.7 775 302.5" stroke-width="4.1" fill="none" />
<path d="M757 339.5 L783 324" stroke-width="2.5" fill="none" />
<ellipse cx="759" cy="338.3" rx="2.2" ry="4.8" transform="rotate(-30.5 759 338.3)" stroke-width="1.7" fill="none" />
<ellipse cx="763" cy="336" rx="2.2" ry="4.8" transform="rotate(-30.5 763 336)" stroke-width="1.7" fill="none" />
<ellipse cx="767" cy="333.6" rx="2.2" ry="4.8" transform="rotate(-30.5 767 333.6)" stroke-width="1.7" fill="none" />
<ellipse cx="771" cy="331.2" rx="2.2" ry="4.8" transform="rotate(-30.5 771 331.2)" stroke-width="1.7" fill="none" />
<ellipse cx="775" cy="328.9" rx="2.2" ry="4.8" transform="rotate(-30.5 775 328.9)" stroke-width="1.7" fill="none" />
<ellipse cx="779" cy="326.5" rx="2.2" ry="4.8" transform="rotate(-30.5 779 326.5)" stroke-width="1.7" fill="none" />
<ellipse cx="783" cy="324.2" rx="2.2" ry="4.8" transform="rotate(-30.5 783 324.2)" stroke-width="1.7" fill="none" />
<ellipse cx="784.5" cy="323.2" rx="3.6" ry="5" transform="rotate(-20 784.5 323.2)" stroke-width="1.7" fill="#fff" />
<path d="M802.4 304.7 L815 297.5" stroke-width="2" fill="none" />
<path d="M807.8 311.9 L819.5 305.6" stroke-width="2" fill="none" />
<ellipse cx="817.5" cy="301.5" rx="3.2" ry="4.6" transform="rotate(-25 817.5 301.5)" stroke-width="1.7" fill="none" />
<ellipse cx="812" cy="304.5" rx="2.6" ry="4.4" transform="rotate(-25 812 304.5)" stroke-width="1.5" fill="none" />
<ellipse cx="807.5" cy="307" rx="2.6" ry="4.4" transform="rotate(-25 807.5 307)" stroke-width="1.5" fill="none" />
<path d="M803 322 L806 319 L814 324.5 L814 335.2 L807.8 336.5 L803 331" stroke-width="2" fill="none" />
<ellipse cx="810.5" cy="330" rx="2.2" ry="2.8" transform="rotate(0 810.5 330)" stroke-width="1.4" fill="none" />
</g>
<g transform="translate(3.2 210)">
<path d="M733.2 342.4 C733.5 337.3 732.6 339.4 735.9 335.2 C739.2 331 737.7 331.3 743.1 329.8 C748.5 328.3 747.3 328 752.1 330.7 C756.9 333.4 755.1 332.2 757.5 337.9 C759.9 343.6 760.5 343 759.3 347.8 C758.1 352.6 759.9 349.9 753.9 352.3 C747.9 354.7 747.6 355.6 741.3 355 C735 354.4 737.7 354.7 735 350.5 C732.3 346.3 732.9 347.5 733.2 342.4Z" stroke-width="2.2" fill="#fff" />
<path d="M739 334 C738.3 337 736.3 336.7 737 343 C737.7 349.3 739.7 349.7 741 353" stroke-width="1.6" fill="none" />
<ellipse cx="738.5" cy="346" rx="2.6" ry="3.4" transform="rotate(0 738.5 346)" stroke-width="1.1" fill="#000" />
<path d="M746 333 C747.7 335.3 749 334.3 751 340 C753 345.7 751.7 346.7 752 350" stroke-width="1.4" fill="none" />
<path d="M734 348 C735.3 350 734.3 351.5 738 354 C741.7 356.5 742.7 355 745 355.5" stroke-width="3" fill="none" />
<ellipse cx="792" cy="317.5" rx="11.7" ry="17.3" transform="rotate(-20 792 317.5)" stroke-width="2.2" fill="#fff" />
<ellipse cx="787" cy="318.8" rx="11.7" ry="17.3" transform="rotate(-20 787 318.8)" stroke-width="1.7" fill="#fff" />
<ellipse cx="781.8" cy="320.3" rx="11.7" ry="17.3" transform="rotate(-20 781.8 320.3)" stroke-width="2.4" fill="#fff" />
<path d="M772 311 C771.8 309.3 770.5 308.8 771.5 306 C772.5 303.2 773.8 303.7 775 302.5" stroke-width="4.1" fill="none" />
<path d="M757 339.5 L783 324" stroke-width="2.5" fill="none" />
<ellipse cx="759" cy="338.3" rx="2.2" ry="4.8" transform="rotate(-30.5 759 338.3)" stroke-width="1.7" fill="none" />
<ellipse cx="763" cy="336" rx="2.2" ry="4.8" transform="rotate(-30.5 763 336)" stroke-width="1.7" fill="none" />
<ellipse cx="767" cy="333.6" rx="2.2" ry="4.8" transform="rotate(-30.5 767 333.6)" stroke-width="1.7" fill="none" />
<ellipse cx="771" cy="331.2" rx="2.2" ry="4.8" transform="rotate(-30.5 771 331.2)" stroke-width="1.7" fill="none" />
<ellipse cx="775" cy="328.9" rx="2.2" ry="4.8" transform="rotate(-30.5 775 328.9)" stroke-width="1.7" fill="none" />
<ellipse cx="779" cy="326.5" rx="2.2" ry="4.8" transform="rotate(-30.5 779 326.5)" stroke-width="1.7" fill="none" />
<ellipse cx="783" cy="324.2" rx="2.2" ry="4.8" transform="rotate(-30.5 783 324.2)" stroke-width="1.7" fill="none" />
<ellipse cx="784.5" cy="323.2" rx="3.6" ry="5" transform="rotate(-20 784.5 323.2)" stroke-width="1.7" fill="#fff" />
<path d="M802.4 304.7 L815 297.5" stroke-width="2" fill="none" />
<path d="M807.8 311.9 L819.5 305.6" stroke-width="2" fill="none" />
<ellipse cx="817.5" cy="301.5" rx="3.2" ry="4.6" transform="rotate(-25 817.5 301.5)" stroke-width="1.7" fill="none" />
<ellipse cx="812" cy="304.5" rx="2.6" ry="4.4" transform="rotate(-25 812 304.5)" stroke-width="1.5" fill="none" />
<ellipse cx="807.5" cy="307" rx="2.6" ry="4.4" transform="rotate(-25 807.5 307)" stroke-width="1.5" fill="none" />
<path d="M803 322 L806 319 L814 324.5 L814 335.2 L807.8 336.5 L803 331" stroke-width="2" fill="none" />
<ellipse cx="810.5" cy="330" rx="2.2" ry="2.8" transform="rotate(0 810.5 330)" stroke-width="1.4" fill="none" />
</g>
<g transform="translate(83.5 1063)">
<path d="M733.2 342.4 C733.5 337.3 732.6 339.4 735.9 335.2 C739.2 331 737.7 331.3 743.1 329.8 C748.5 328.3 747.3 328 752.1 330.7 C756.9 333.4 755.1 332.2 757.5 337.9 C759.9 343.6 760.5 343 759.3 347.8 C758.1 352.6 759.9 349.9 753.9 352.3 C747.9 354.7 747.6 355.6 741.3 355 C735 354.4 737.7 354.7 735 350.5 C732.3 346.3 732.9 347.5 733.2 342.4Z" stroke-width="2.2" fill="#fff" />
<path d="M739 334 C738.3 337 736.3 336.7 737 343 C737.7 349.3 739.7 349.7 741 353" stroke-width="1.6" fill="none" />
<ellipse cx="738.5" cy="346" rx="2.6" ry="3.4" transform="rotate(0 738.5 346)" stroke-width="1.1" fill="#000" />
<path d="M746 333 C747.7 335.3 749 334.3 751 340 C753 345.7 751.7 346.7 752 350" stroke-width="1.4" fill="none" />
<path d="M734 348 C735.3 350 734.3 351.5 738 354 C741.7 356.5 742.7 355 745 355.5" stroke-width="3" fill="none" />
<ellipse cx="792" cy="317.5" rx="11.7" ry="17.3" transform="rotate(-20 792 317.5)" stroke-width="2.2" fill="#fff" />
<ellipse cx="787" cy="318.8" rx="11.7" ry="17.3" transform="rotate(-20 787 318.8)" stroke-width="1.7" fill="#fff" />
<ellipse cx="781.8" cy="320.3" rx="11.7" ry="17.3" transform="rotate(-20 781.8 320.3)" stroke-width="2.4" fill="#fff" />
<path d="M772 311 C771.8 309.3 770.5 308.8 771.5 306 C772.5 303.2 773.8 303.7 775 302.5" stroke-width="4.1" fill="none" />
<path d="M757 339.5 L783 324" stroke-width="2.5" fill="none" />
<ellipse cx="759" cy="338.3" rx="2.2" ry="4.8" transform="rotate(-30.5 759 338.3)" stroke-width="1.7" fill="none" />
<ellipse cx="763" cy="336" rx="2.2" ry="4.8" transform="rotate(-30.5 763 336)" stroke-width="1.7" fill="none" />
<ellipse cx="767" cy="333.6" rx="2.2" ry="4.8" transform="rotate(-30.5 767 333.6)" stroke-width="1.7" fill="none" />
<ellipse cx="771" cy="331.2" rx="2.2" ry="4.8" transform="rotate(-30.5 771 331.2)" stroke-width="1.7" fill="none" />
<ellipse cx="775" cy="328.9" rx="2.2" ry="4.8" transform="rotate(-30.5 775 328.9)" stroke-width="1.7" fill="none" />
<ellipse cx="779" cy="326.5" rx="2.2" ry="4.8" transform="rotate(-30.5 779 326.5)" stroke-width="1.7" fill="none" />
<ellipse cx="783" cy="324.2" rx="2.2" ry="4.8" transform="rotate(-30.5 783 324.2)" stroke-width="1.7" fill="none" />
<ellipse cx="784.5" cy="323.2" rx="3.6" ry="5" transform="rotate(-20 784.5 323.2)" stroke-width="1.7" fill="#fff" />
<path d="M802.4 304.7 L815 297.5" stroke-width="2" fill="none" />
<path d="M807.8 311.9 L819.5 305.6" stroke-width="2" fill="none" />
<ellipse cx="817.5" cy="301.5" rx="3.2" ry="4.6" transform="rotate(-25 817.5 301.5)" stroke-width="1.7" fill="none" />
<ellipse cx="812" cy="304.5" rx="2.6" ry="4.4" transform="rotate(-25 812 304.5)" stroke-width="1.5" fill="none" />
<ellipse cx="807.5" cy="307" rx="2.6" ry="4.4" transform="rotate(-25 807.5 307)" stroke-width="1.5" fill="none" />
<path d="M803 322 L806 319 L814 324.5 L814 335.2 L807.8 336.5 L803 331" stroke-width="2" fill="none" />
<ellipse cx="810.5" cy="330" rx="2.2" ry="2.8" transform="rotate(0 810.5 330)" stroke-width="1.4" fill="none" />
</g>
<path d="M824 296.6 L843.8 285.8" stroke-width="1.7" fill="none" />
<path d="M852 281.5 L866 274" stroke-width="1.7" fill="none" />
<path d="M731.4 352.3 L589 438 L588.5 1147" stroke-width="1.7" fill="none" stroke-dasharray="42 5 3 5 60 5 3 5"/>
<path d="M588.5 1147.4 L570 1157" stroke-width="1.7" fill="none" />
<path d="M830.3 503 L875.2 476" stroke-width="1.7" fill="none" />
<path d="M734 560.6 L601.5 636 L598 1354.4" stroke-width="1.7" fill="none" stroke-dasharray="60 5 3 5 38 5 3 5"/>
<path d="M598 1354.4 L571.4 1368.4" stroke-width="1.7" fill="none" />
<path d="M811.4 1415 L790 1427.7" stroke-width="1.7" fill="none" />
<g transform="translate(0 0)">
<ellipse cx="1012.5" cy="272" rx="5.5" ry="7.5" transform="rotate(-25 1012.5 272)" stroke-width="2.3" fill="#fff" />
<ellipse cx="1010.5" cy="273" rx="4" ry="6.5" transform="rotate(-25 1010.5 273)" stroke-width="1.6" fill="none" />
<ellipse cx="992.7" cy="287.9" rx="1.9" ry="3.8" transform="rotate(-34.1 992.7 287.9)" stroke-width="1.8" fill="none" />
<ellipse cx="996.1" cy="285.6" rx="1.9" ry="3.8" transform="rotate(-34.1 996.1 285.6)" stroke-width="1.8" fill="none" />
<ellipse cx="999.5" cy="283.2" rx="1.9" ry="3.8" transform="rotate(-34.1 999.5 283.2)" stroke-width="1.8" fill="none" />
<ellipse cx="1002.9" cy="280.9" rx="1.9" ry="3.8" transform="rotate(-34.1 1002.9 280.9)" stroke-width="1.8" fill="none" />
<ellipse cx="1006.3" cy="278.6" rx="1.9" ry="3.8" transform="rotate(-34.1 1006.3 278.6)" stroke-width="1.8" fill="none" />
<path d="M989.5 290.5 L993 287" stroke-width="2.3" fill="none" />
<path d="M979 299 L986 294" stroke-width="1.7" fill="none" />
<path d="M981.6 320 L990 314" stroke-width="1.7" fill="none" />
</g>
<ellipse cx="530" cy="146.8" rx="8.6" ry="9.4" transform="rotate(-20 530 146.8)" stroke-width="2.3" fill="#fff" />
<ellipse cx="528.5" cy="147.8" rx="6.4" ry="7.4" transform="rotate(-20 528.5 147.8)" stroke-width="1.5" fill="none" />
<path d="M524 150 L533 145" stroke-width="1.8" fill="none" />
<path d="M527 143.5 L530 152" stroke-width="1.6" fill="none" />
<ellipse cx="539.1" cy="142.3" rx="2.3" ry="4.2" transform="rotate(-28.7 539.1 142.3)" stroke-width="1.8" fill="none" />
<ellipse cx="543.3" cy="140.1" rx="2.3" ry="4.2" transform="rotate(-28.7 543.3 140.1)" stroke-width="1.8" fill="none" />
<ellipse cx="547.5" cy="137.8" rx="2.3" ry="4.2" transform="rotate(-28.7 547.5 137.8)" stroke-width="1.8" fill="none" />
<ellipse cx="551.7" cy="135.4" rx="2.3" ry="4.2" transform="rotate(-28.7 551.7 135.4)" stroke-width="1.8" fill="none" />
<ellipse cx="555.9" cy="133.2" rx="2.3" ry="4.2" transform="rotate(-28.7 555.9 133.2)" stroke-width="1.8" fill="none" />
<path d="M557 129.5 L562.5 128.5 L559.5 134" stroke-width="1.8" fill="none" />
<path d="M567.7 124 L598 107.7" stroke-width="1.7" fill="none" stroke-dasharray="40 4"/>
<path d="M428.6 121.8 L452.3 105.6 L478.2 117.4 L479.3 126 L450.2 139 L428.6 129.3Z" stroke-width="2.3" fill="#fff" />
<path d="M428.6 121.8 L450.5 132 L476 118.5" stroke-width="2" fill="none" />
<path d="M450.5 132 L450.2 139" stroke-width="1.8" fill="none" />
<path d="M436 118.5 L455 107.5" stroke-width="1.6" fill="none" />
<path d="M455 124 L472 115" stroke-width="1.5" fill="none" />
<path d="M433 126.5 L438 128.7" stroke-width="1.5" fill="none" />
<path d="M441 130 L446 132.5" stroke-width="1.5" fill="none" />
<ellipse cx="475.5" cy="116" rx="3.4" ry="6.2" transform="rotate(-15 475.5 116)" stroke-width="3" fill="none" />
<ellipse cx="448.5" cy="107.5" rx="2" ry="2.6" transform="rotate(0 448.5 107.5)" stroke-width="1.4" fill="#000" />
<path d="M468 113 L473.5 124" stroke-width="2.8" fill="none" />
<path d="M319 196 C319 186.9 317.7 175.1 319 162 C320.3 148.9 320.5 154.8 324 147 C327.5 139.2 328.5 138 332 132.8 C335.5 127.6 334.1 129.5 337 127.5 C339.9 125.5 339.2 124.9 342.7 125.3 C346.2 125.7 346 126.1 350 129 C354 131.9 353.8 131.7 357.8 136 C361.8 140.3 361.5 139.8 365 145 C368.5 150.2 368.1 148.8 370.8 155.5 C373.5 162.2 373.3 161.4 375 170 C376.7 178.6 376.5 175.8 377.2 187.8 C377.9 199.8 377.5 199.5 377.5 215 C377.5 230.5 378.4 236.7 377.2 246 C376 255.3 375.3 248.6 373 250 C370.7 251.4 372.6 252.3 368.6 251.4 C364.6 250.5 363.8 249.4 358 246.5 C352.2 243.6 349.9 242.2 347 240.6" stroke-width="2.3" fill="#fff" />
<path d="M351.3 126.4 C353.4 127.9 355 128.3 359 132 C363 135.7 362.4 135.6 366.4 140.4 C370.4 145.2 370.5 144.8 374 150 C377.5 155.2 376.5 153.1 379.4 159.8 C382.3 166.5 382.7 166.9 385 175 C387.3 183.1 387.1 179.3 388 190 C388.9 200.7 388.3 202.9 388.3 215 C388.3 227.1 388.1 229.9 388 235.3" stroke-width="2" fill="none" />
<path d="M342.7 125.3 L383.7 105.9" stroke-width="2.2" fill="none" />
<path d="M351.3 126.4 L388 107.5" stroke-width="1.7" fill="none" />
<path d="M383.7 105.9 C384.8 105.7 385.7 104.7 388 105 C390.3 105.3 388.8 104.7 392.3 107 C395.8 109.3 396.4 109.5 401 113.5 C405.6 117.5 405.6 115.5 409.6 122 C413.6 128.5 412.6 127.9 416 138 C419.4 148.1 420.2 147.3 422.5 159.8 C424.8 172.3 423.9 170.6 424.5 185 C425.1 199.4 424.6 206 424.7 213.7" stroke-width="2.3" fill="none" />
<path d="M424.7 213.7 L388 235.3 L377.2 246" stroke-width="2.2" fill="none" />
<path d="M375 135 L401 121" stroke-width="1.8" fill="none" />
<path d="M390 179.2 L418.2 165.2" stroke-width="1.8" fill="none" />
<path d="M378 157.5 L373 158.5 L373.5 164 L379 163" stroke-width="1.7" fill="none" />
<path d="M387.5 221.5 L382.5 223 L383 229 L388 228" stroke-width="1.7" fill="none" />
<path d="M384 186.5 L378 189.5" stroke-width="1.4" fill="none" />
<path d="M333.1 194.8 C334 194.4 333.9 194.2 335.9 193.7 C337.9 193.2 336.9 193.3 339 193.3 C341.1 193.3 340.1 193.2 342.2 193.7 C344.4 194.2 343.3 193.8 345.5 194.8 C347.6 195.8 346.6 195.2 348.6 196.7 C350.7 198.1 349.7 197.3 351.6 199.2 C353.5 201 352.6 200 354.3 202.2 C355.9 204.4 355.2 203.3 356.6 205.7 C357.9 208.2 357.4 206.9 358.4 209.6 C359.4 212.2 359 210.9 359.7 213.6 C360.4 216.3 360.1 215 360.4 217.7 C360.7 220.4 360.6 219.1 360.5 221.7 C360.4 224.4 360.6 223.1 360.1 225.6 C359.5 228 359.9 226.9 359 229 C358.1 231.2 358.6 230.2 357.4 232.1 C356.1 233.9 356 233.7 355.3 234.5" stroke-width="2.2" fill="none" />
<ellipse cx="337.5" cy="218" rx="17" ry="20.5" transform="rotate(-22 337.5 218)" stroke-width="1.7" fill="#fff" />
<ellipse cx="337.5" cy="218" rx="15.5" ry="19" transform="rotate(-22 337.5 218)" stroke-width="6" fill="none" />
<ellipse cx="337.5" cy="218" rx="15.5" ry="19" transform="rotate(-22 337.5 218)" stroke-width="3" fill="none" style="stroke:#fff" stroke-dasharray="3.4 5.4" stroke-linecap="butt"/>
<ellipse cx="334" cy="219.5" rx="10.5" ry="14.5" transform="rotate(-22 334 219.5)" stroke-width="3.9" fill="none" />
<ellipse cx="329.5" cy="215" rx="6" ry="9" transform="rotate(-22 329.5 215)" stroke-width="1.1" fill="#000" />
<ellipse cx="335.5" cy="226.5" rx="4.8" ry="10.2" transform="rotate(-22 335.5 226.5)" stroke-width="2" fill="#fff" />
<path d="M319 240 L334 237 L336.5 243 L327 248 L321 245.5 Z" fill="#000" stroke-width="1.5"/>
<ellipse cx="319.5" cy="228.3" rx="10.3" ry="12.6" transform="rotate(-28 319.5 228.3)" stroke-width="3" fill="#fff" />
<path d="M301 231.5 L314.5 222.5 L323 236.5 L306.5 244.5 Z" fill="#fff" stroke="none"/>
<path d="M301 231.5 L314.5 222.5" stroke-width="2.3" fill="none" />
<path d="M306.5 244.5 L322 237.5" stroke-width="2.3" fill="none" />
<ellipse cx="321.5" cy="229.5" rx="5.6" ry="8.6" transform="rotate(-28 321.5 229.5)" stroke-width="1.8" fill="none" />
<ellipse cx="303" cy="237.5" rx="4.6" ry="7.2" transform="rotate(-28 303 237.5)" stroke-width="1.6" fill="#000" />
<ellipse cx="301.5" cy="235.5" rx="1.7" ry="2.4" transform="rotate(-28 301.5 235.5)" stroke-width="0.6" fill="#fff" style="stroke:#fff"/>
<ellipse cx="300.5" cy="240" rx="1.5" ry="2" transform="rotate(-28 300.5 240)" stroke-width="0.6" fill="#fff" style="stroke:#fff"/>
<path d="M304.5 214.5 L311 212.8 L312 218.2 L306 220 Z" fill="#000" stroke-width="1.3"/>
<path d="M345.5 241 L363 250 L368.6 251.4" stroke-width="2.3" fill="none" />
<path d="M295.3 241.7 L277 252.5 L319.5 318" stroke-width="1.7" fill="none" stroke-dasharray="21 0 22 5 3 5 60"/>
<g transform="translate(0 0)">
<path d="M483.2 221.5 L511.5 202.6 L515.3 203.9 L527.9 194.5 L532.9 195.7 L585.7 224 L585.1 228.6 L535.4 239.3 L498.9 221.5" stroke-width="2.5" fill="#fff" />
<path d="M535.4 239.3 L585.1 228.6 L581.3 250.4 L574.4 251.7 L569.4 247.9 L560.6 253 L550.5 254.2 L534.2 262.4 L520.3 254.2 L525 243 L498.9 225 Z" fill="#fff" stroke="none"/>
<path d="M483.2 221.5 L484 224.5 L492.6 228.4 L493.3 240.4 L497.7 242.3 L498.3 230.3" stroke-width="2.3" fill="none" />
<path d="M498.9 221.5 L492.6 228.4" stroke-width="1.7" fill="none" />
<path d="M535.4 239.3 L534.2 262.4 L520.3 254.2 L525 243" stroke-width="2.5" fill="none" />
<path d="M534.2 262.4 L550.5 254.2 L560.6 253 L569.4 247.9 L574.4 251.7 L581.3 250.4 L581.3 231" stroke-width="2.3" fill="none" />
<path d="M574.4 251.7 L574.4 236" stroke-width="1.8" fill="none" />
<path d="M577.5 250.5 L577.5 236" stroke-width="1.5" fill="none" />
<path d="M528.5 246 L528.5 259" stroke-width="1.7" fill="none" />
<ellipse cx="498.5" cy="216.5" rx="6.3" ry="2.6" transform="rotate(-30 498.5 216.5)" stroke-width="2.3" fill="none" />
<path d="M512.8 203.9 L514.5 207.5 L522 206 L530 210 L551 222 L556 226.5 L563 226.5 L568 229" stroke-width="2" fill="none" />
<path d="M527.9 194.5 L537 201" stroke-width="1.6" fill="none" />
<path d="M522 206 L531 200.5" stroke-width="1.8" fill="none" />
<path d="M536 203 L557 215" stroke-width="2.3" fill="none" />
<path d="M540 210.5 L554 218" stroke-width="1.6" fill="none" />
<ellipse cx="564.5" cy="221.5" rx="3" ry="1.6" transform="rotate(-30 564.5 221.5)" stroke-width="1.1" fill="#000" />
<ellipse cx="568.3" cy="208" rx="6" ry="5.6" transform="rotate(0 568.3 208)" stroke-width="2.8" fill="#000" />
<ellipse cx="566.5" cy="209.5" rx="2" ry="2.4" transform="rotate(-30 566.5 209.5)" stroke-width="0.7" fill="#fff" style="stroke:#fff"/>
<path d="M557.5 207.5 L563 204.5" stroke-width="1.8" fill="none" />
<ellipse cx="510" cy="241.8" rx="9.5" ry="10" transform="rotate(0 510 241.8)" stroke-width="1.6" fill="#000" />
<ellipse cx="512.8" cy="238.5" rx="3" ry="3.6" transform="rotate(-30 512.8 238.5)" stroke-width="0.7" fill="#fff" style="stroke:#fff"/>
<path d="M516 244 L527 240.5" stroke-width="1.7" fill="none" />
<path d="M517 247.5 L524 245.5" stroke-width="1.7" fill="none" />
<ellipse cx="543.5" cy="243" rx="7.5" ry="8.5" transform="rotate(20 543.5 243)" stroke-width="1.4" fill="#000" />
<path d="M548 240 L560 234.5" stroke-width="3" fill="none" />
<path d="M551 246 L566 239" stroke-width="1.6" fill="none" />
<ellipse cx="556.5" cy="249.5" rx="5" ry="3.6" transform="rotate(-25 556.5 249.5)" stroke-width="1.7" fill="#fff" />
<ellipse cx="566.5" cy="243" rx="2.6" ry="2" transform="rotate(-25 566.5 243)" stroke-width="1.5" fill="none" />
<path d="M483 236 C482.2 237.7 480.8 237.3 480.5 241 C480.2 244.7 481.5 245 482 247" stroke-width="1.4" fill="none" />
</g>
<path d="M499.8 249 L437.3 283.5 L437 386" stroke-width="1.7" fill="none" stroke-dasharray="36 5 3 5 60 5 3 5 50 5 3 5"/>
<path d="M436 666 L435 899" stroke-width="1.7" fill="none" stroke-dasharray="90 5 3 5 60 5 3 5"/>
<path d="M434.4 980 L434.4 989.6" stroke-width="1.7" fill="none" />
<path d="M431 991 L364.3 1028.4" stroke-width="1.7" fill="none" stroke-dasharray="30 6 3 6"/>
<path d="M579.6 201.5 L660 156" stroke-width="1.7" fill="none" stroke-dasharray="48 5 3 5"/>
<g transform="translate(0 0)">
<path d="M611.9 725.3 L634.5 701.9 L638.8 703.3 L644.2 698.6 L659 706.5 L658.6 713.7 L666.5 718.8 L666.5 737.1 L643.9 760.5 L636 756.9 L630.2 760.9 L623 756.2 L620.9 747.6 L612.6 743.6Z" stroke-width="2.8" fill="#fff" />
<path d="M611.9 725.3 L616.2 727 L620.9 728.8 L622 724 L634.5 703.5" stroke-width="2.2" fill="none" />
<path d="M616.2 727 L637 704" stroke-width="1.7" fill="none" />
<path d="M622 724 L624.5 724.5 L630.2 731.7 L634.5 731 L635.3 736.8 L643.2 741.8 L643.9 757" stroke-width="2.5" fill="none" />
<path d="M625.9 721.7 L643.9 700" stroke-width="2.3" fill="none" />
<path d="M625.9 721.7 L635.3 728.1 L656.1 708.7" stroke-width="2.3" fill="none" />
<path d="M635.3 728.1 L637.4 733.5" stroke-width="3" fill="none" />
<path d="M637.4 732.4 L657.6 716" stroke-width="2.3" fill="none" />
<path d="M638.8 738.9 L658.6 720.5" stroke-width="2.1" fill="none" />
<path d="M644.6 741 L664.7 722" stroke-width="2.3" fill="none" />
<path d="M623.5 735 C625.2 733 625.2 733 628 734 C630.8 735 630 734.3 632 738 C634 741.7 633.5 740.8 634 745 C634.5 749.2 635.2 749.2 633.5 750.5 C631.8 751.8 631.8 750.5 629 749 C626.2 747.5 627.1 749 625 746 C622.9 743 623.3 743.7 622.8 740 C622.3 736.3 621.8 737 623.5 735Z" stroke-width="2.5" fill="none" />
<path d="M617.3 734.5 L617.3 739.5" stroke-width="2.3" fill="none" />
<path d="M639.2 747.5 L639.2 752.5" stroke-width="2.1" fill="none" />
<path d="M628 751 L632.5 754" stroke-width="2.5" fill="none" />
</g>
<ellipse cx="502.5" cy="877.5" rx="24" ry="21.5" transform="rotate(25 502.5 877.5)" stroke-width="2.3" fill="none" />
<ellipse cx="503.5" cy="878" rx="19" ry="16.5" transform="rotate(25 503.5 878)" stroke-width="2.1" fill="none" />
<path d="M499 858 L499.5 847.5 L507.5 849.5 L507 858.5" stroke-width="2.1" fill="#fff" />
<path d="M497 898.5 L497 909 L505.5 911 L505.5 900" stroke-width="2.1" fill="#fff" />
<path d="M488 866 C487 867.3 485 867.3 485 870 C485 872.7 487.8 871.3 488 874 C488.2 876.7 486.3 876.7 485.5 878" stroke-width="3" fill="none" />
<g transform="translate(0 0)">
<path d="M1024.2 1037.7 L1037.7 1023.2 L1037 1019.5 L1040.2 1016.6 L1063.5 1028.6 L1064.1 1045.9 L1061.6 1048.4 L1057.8 1045.9 L1045.2 1060.3 L1037.7 1058.5 L1024.5 1051.5Z" stroke-width="1.8" fill="#000" />
<path d="M1028.2 1037.1 L1040.2 1023.9 L1047.1 1026.4 L1040.2 1030.2 L1035.2 1035.8 L1032 1039Z" stroke-width="0.5" fill="#fff" style="stroke:#fff"/>
<path d="M1048.4 1027.6 L1057.2 1033.3 L1045.2 1043.4 L1045.2 1036.4 L1049 1031.4Z" stroke-width="0.5" fill="#fff" style="stroke:#fff"/>
<path d="M1045.8 1045.3 L1056.5 1037.1 L1057.8 1042.7 L1047.7 1054.7 L1044.9 1054.7Z" stroke-width="0.5" fill="#fff" style="stroke:#fff"/>
<path d="M1033.3 1040.2 L1035 1040 L1034.6 1050.9 L1033.3 1050.9Z" stroke-width="0.5" fill="#fff" style="stroke:#fff"/>
<ellipse cx="1038.6" cy="1048.4" rx="1.1" ry="1.1" transform="rotate(0 1038.6 1048.4)" stroke-width="0.5" fill="#fff" style="stroke:#fff"/>
<ellipse cx="1042.5" cy="1032.5" rx="2" ry="1" transform="rotate(-35 1042.5 1032.5)" stroke-width="0.5" fill="#fff" style="stroke:#fff"/>
</g>
<g transform="translate(0 0)">
<path d="M112.5 1424 L123 1400 L133 1396.5 L147 1395 L153.5 1400 L154 1412 L148 1423 L122 1437.5 L113 1433Z" stroke-width="2.5" fill="#fff" />
<path d="M123 1400 L118 1418 L121.5 1436" stroke-width="1.8" fill="none" />
<path d="M118 1418 L141 1406.5 L147.5 1423" stroke-width="2" fill="none" />
<path d="M141 1406.5 L139 1397" stroke-width="1.7" fill="none" />
<path d="M125 1404.5 L135 1400" stroke-width="3.2" fill="none" />
<path d="M127 1410 L138 1405" stroke-width="1.6" fill="none" />
<path d="M146 1398 C147.5 1399.3 150 1399 150.5 1402 C151 1405 147 1404 147.5 1407 C148 1410 150.5 1409.7 152 1411" stroke-width="2.5" fill="none" />
<path d="M114 1426 L121 1437" stroke-width="2.8" fill="none" />
<path d="M122 1437.5 L126 1435" stroke-width="3" fill="none" />
</g>
<g transform="translate(0 0)">
<path d="M157 1389 L161 1384 L184 1374.5 L186 1368.5 L206 1360" stroke-width="2.3" fill="none" />
<path d="M157 1389 L160 1409 L165 1413.5 L200 1402" stroke-width="2.5" fill="none" />
<path d="M160 1398 L199 1383" stroke-width="1.8" fill="none" />
<path d="M161.5 1404.5 L199.5 1392" stroke-width="1.8" fill="none" />
<path d="M163 1386 L184 1378 L186 1384" stroke-width="1.7" fill="none" />
<ellipse cx="169" cy="1389" rx="4.6" ry="2.2" transform="rotate(-20 169 1389)" stroke-width="1.1" fill="#000" />
<path d="M186 1368.5 L187.5 1380" stroke-width="1.7" fill="none" />
<ellipse cx="212" cy="1385" rx="12" ry="26" transform="rotate(-12 212 1385)" stroke-width="2.3" fill="#fff" />
<ellipse cx="222" cy="1382.5" rx="17.5" ry="24.5" transform="rotate(-12 222 1382.5)" stroke-width="2.3" fill="#fff" />
<path d="M200 1402 C201 1405 199.7 1406.5 203 1411 C206.3 1415.5 204.3 1415.2 210 1415.5 C215.7 1415.8 214.7 1414.8 220 1412 C225.3 1409.2 224 1408.7 226 1407" stroke-width="2.1" fill="none" />
<ellipse cx="217.5" cy="1377.5" rx="3.6" ry="6.2" transform="rotate(-25 217.5 1377.5)" stroke-width="2" fill="none" />
<ellipse cx="222.5" cy="1391.5" rx="4.6" ry="3.6" transform="rotate(-10 222.5 1391.5)" stroke-width="2" fill="none" />
<path d="M228 1369 C226.8 1370.7 223.8 1371.2 224.5 1374 C225.2 1376.8 229.3 1374.5 230 1377.5 C230.7 1380.5 225.5 1380.5 226.5 1383 C227.5 1385.5 230.8 1384.3 233 1385" stroke-width="2.2" fill="none" />
<path d="M226 1364 L227 1371" stroke-width="1.7" fill="none" />
<path d="M233 1372 L238.5 1373.5" stroke-width="1.7" fill="none" />
</g>
<g transform="translate(0 0)">
<path d="M258.5 1361 C258.8 1355.9 258.9 1353.4 262 1349 C265.1 1344.6 263.6 1346.8 270 1344.5 C276.4 1342.2 280.7 1339.3 286 1340.5 C291.3 1341.7 288.1 1343.3 290 1349 C291.9 1354.7 292.7 1355.9 293 1362 C293.3 1368.1 294.5 1368.1 291 1372 C287.5 1375.9 286.1 1375.8 280 1376.5 C273.9 1377.2 273.1 1376.8 268 1374.5 C262.9 1372.2 263.5 1371.6 261 1368 C258.5 1364.4 258.2 1366.1 258.5 1361Z" stroke-width="2.3" fill="#fff" />
<path d="M286 1340.5 C289.7 1339.7 292.8 1338 300 1337.5 C307.2 1337 307.8 1336.5 313 1338.5 C318.2 1340.5 317.4 1340.6 319.5 1345 C321.6 1349.4 321.9 1350.5 321 1355 C320.1 1359.5 320.5 1359.1 316 1362 C311.5 1364.9 310.1 1364.5 304 1366 C297.9 1367.5 295.9 1367.1 293 1367.5" stroke-width="2.3" fill="none" />
<ellipse cx="289.5" cy="1356.5" rx="4.5" ry="12.5" transform="rotate(-12 289.5 1356.5)" stroke-width="1.8" fill="none" />
<path d="M296 1350 L312 1345.5" stroke-width="1.6" fill="none" />
<path d="M298 1358.5 L313 1354.5" stroke-width="1.6" fill="none" />
<path d="M314.5 1343.5 L316 1356.5" stroke-width="2.5" fill="none" />
<ellipse cx="271.5" cy="1344" rx="2.6" ry="2.4" transform="rotate(0 271.5 1344)" stroke-width="1.1" fill="#000" />
<ellipse cx="281" cy="1378" rx="2.4" ry="2.2" transform="rotate(0 281 1378)" stroke-width="1.1" fill="#000" />
<ellipse cx="294.5" cy="1369" rx="2" ry="1.8" transform="rotate(0 294.5 1369)" stroke-width="1.1" fill="#000" />
<path d="M259.5 1358 C260.2 1360 259.3 1360.2 261.5 1364 C263.7 1367.8 264.5 1367.7 266 1369.5" stroke-width="1.5" fill="none" />
</g>
<path d="M215 1232.6 L192 1243.3 L229.9 1267.6" stroke-width="1.7" fill="none" />
<path d="M246 1278.4 L289.2 1304" stroke-width="1.7" fill="none" />
<path d="M304 1313.4 L340.4 1336.3 L328.3 1343" stroke-width="1.7" fill="none" />
<g transform="translate(0 0)">
<path d="M789 751 L803 744.5 L812 744 L820 738 L827 738.5 L836 746 L844 749 L853 745 L857 752 L865 760 L865.5 774 L858 779" stroke-width="2.1" fill="#fff" />
<path d="M803 744.5 L816 756 L818 762" stroke-width="1.6" fill="none" />
<path d="M836 746 L823 757 L818 762" stroke-width="1.7" fill="none" />
<path d="M853 745 L840 757 L842 766" stroke-width="1.7" fill="none" />
<path d="M806 750 L812 747" stroke-width="1.5" fill="none" />
<path d="M810 756 L817 752.5" stroke-width="1.5" fill="none" />
<path d="M835 761 L842 757.5" stroke-width="1.5" fill="none" />
<path d="M846 770 L853 766" stroke-width="1.5" fill="none" />
<path d="M856 768 L860 772 L864 770" stroke-width="3" fill="none" />
<path d="M849 772 L852 777" stroke-width="2.3" fill="none" />
<path d="M707 747 L737 722.5 L848 776 L861 800 L861 993 L852 1003.6 L823 1017 L814 1018 L708 954 L702.6 945 Z" fill="#fff" stroke="none"/>
<path d="M707 747.2 C709.9 744.5 712.3 741.9 718 737 C723.7 732.1 724.5 732.3 728.5 729 C732.5 725.7 730.6 726.2 733 724.5 C735.4 722.8 735.1 723 737.5 722.5 C739.9 722 739.6 721.9 742 722.5 C744.4 723.1 745.3 724.1 746.5 724.7" stroke-width="2.3" fill="none" />
<path d="M746.5 724.7 L847.7 776.5" stroke-width="2.3" fill="none" />
<path d="M847.7 776.5 C849.6 778.2 850.2 777 853.5 781.5 C856.8 786 855.3 784.5 857.5 790 C859.7 795.5 858.8 792 860 798 C861.2 804 860.7 804.7 861 808" stroke-width="2.3" fill="none" />
<path d="M861 808 L861 992.4" stroke-width="2.3" fill="none" />
<path d="M861 992.4 C860.2 994.6 861.5 995.3 858.5 999 C855.5 1002.7 854.2 1002.1 852 1003.6" stroke-width="2.3" fill="none" />
<path d="M707 747.2 L702.6 945" stroke-width="2.3" fill="none" />
<path d="M702.6 945 C703.1 947 702.1 948 704 951 C705.9 954 706.8 953 708.2 954" stroke-width="2.3" fill="none" />
<path d="M708.2 954 L814 1018" stroke-width="2.3" fill="none" />
<path d="M814 1018 C815.7 1018.3 816 1019.3 819 1019 C822 1018.7 821.7 1017.7 823 1017" stroke-width="2.3" fill="none" />
<path d="M823 1017 L847.7 1004.8 L852 1003.6" stroke-width="2.3" fill="none" />
<path d="M741 728.5 L760 738.5" stroke-width="1.7" fill="none" />
<path d="M770 743.5 L800 759" stroke-width="1.7" fill="none" />
<path d="M812 765 L842 780.5" stroke-width="1.7" fill="none" />
<path d="M842 780.5 C844.2 782.2 845.3 781 848.5 785.5 C851.7 790 850.3 787.2 851.5 794 C852.7 800.8 852 802 852.2 806" stroke-width="1.8" fill="none" />
<path d="M852.2 806 L852.2 1001" stroke-width="1.8" fill="none" />
<path d="M736 731 L752 739.5" stroke-width="1.6" fill="none" />
<path d="M765 746 L790 759" stroke-width="1.6" fill="none" />
<path d="M806 767 L836 783" stroke-width="1.6" fill="none" />
<path d="M836 783 C838 784.7 839 783.3 842 788 C845 792.7 843.9 790.3 845 797 C846.1 803.7 845.3 804.3 845.4 808" stroke-width="1.8" fill="none" />
<path d="M845.4 808 L846 1003" stroke-width="1.8" fill="none" />
<path d="M707 747.2 C709.3 745.5 709 744.2 714 742 C719 739.8 717.3 740 722 740.5 C726.7 741 726 742.5 728 743.5" stroke-width="3.4" fill="none" />
<path d="M724 736 L728 744.5" stroke-width="1.7" fill="none" />
<path d="M727.6 737.6 L731.6 746.2" stroke-width="1.7" fill="none" />
<path d="M731.2 739.2 L735.2 747.9" stroke-width="1.7" fill="none" />
<path d="M734.8 740.8 L738.8 749.6" stroke-width="1.7" fill="none" />
<path d="M738.4 742.4 L742.4 751.3" stroke-width="1.7" fill="none" />
<path d="M742 744 L746 753" stroke-width="1.7" fill="none" />
<path d="M728.5 752.9 L789.2 785.5" stroke-width="2" fill="none" />
<path d="M800.5 791.5 C803.7 793 804.7 793 810 796 C815.3 799 812.9 796.5 816.5 800.5 C820.1 804.5 819.3 805.5 820.7 808" stroke-width="2" fill="none" />
<path d="M820.7 808 C821.1 838.7 819.8 831.8 822 900 C824.2 968.2 825.6 975.1 827.4 1012.6" stroke-width="2" fill="none" />
<path d="M711.6 754.5 L709.4 944.7" stroke-width="2.1" fill="none" />
<path d="M718.4 756.2 L716.9 948.8" stroke-width="2.1" fill="none" />
<path d="M726.2 758.1 L725.4 953.5" stroke-width="2.1" fill="none" />
<path d="M734.1 759.9 L734 958.2" stroke-width="2.1" fill="none" />
<path d="M742 764.1 L742.6 962.9" stroke-width="2.1" fill="none" />
<path d="M749.8 768.3 L751.1 967.6" stroke-width="2.1" fill="none" />
<path d="M757.7 772.6 L759.7 972.4" stroke-width="2.1" fill="none" />
<path d="M766.7 777.4 L769.3 977.8" stroke-width="2.1" fill="none" />
<path d="M774.6 781.7 L777.9 982.5" stroke-width="2.1" fill="none" />
<path d="M782.5 785.9 L786.5 987.2" stroke-width="2.1" fill="none" />
<path d="M791.5 790.7 L796.2 992.6" stroke-width="2.1" fill="none" />
<path d="M799.3 794.9 L804.7 997.3" stroke-width="2.1" fill="none" />
<path d="M807.2 799.2 L813.3 1002.1" stroke-width="2.1" fill="none" />
<path d="M814.5 809.1 L821.3 1006.4" stroke-width="2.1" fill="none" />
<path d="M798.9 772.9 L806.1 770.1" stroke-width="2.3" fill="none" />
<path d="M801.8 777.2 L808.8 773.7" stroke-width="2.3" fill="none" />
<path d="M805 781.8 L811.1 776.9" stroke-width="2.3" fill="none" />
<path d="M807 785.2 L814.6 781.4" stroke-width="2.3" fill="none" />
<path d="M809.8 789.3 L817.4 785.1" stroke-width="2.3" fill="none" />
<path d="M812.6 793.5 L820.1 788.7" stroke-width="2.3" fill="none" />
<path d="M814.7 797 L823.5 793.1" stroke-width="2.3" fill="none" />
<path d="M817.9 801.6 L825.9 796.4" stroke-width="2.3" fill="none" />
<path d="M820.7 805.8 L828.6 800" stroke-width="2.3" fill="none" />
<path d="M823.7 810.1 L831.2 803.5" stroke-width="2.3" fill="none" />
<path d="M825.3 813.2 L835.1 808.3" stroke-width="2.3" fill="none" />
<path d="M828.3 817.6 L837.6 811.8" stroke-width="2.3" fill="none" />
<path d="M830.7 821.3 L840.8 815.8" stroke-width="2.3" fill="none" />
<path d="M834.5 826.5 L842.5 818.5" stroke-width="2.3" fill="none" />
<path d="M812.2 781.2 L816.8 788.8" stroke-width="2.1" fill="none" />
<path d="M815.7 784.3 L821.7 793.3" stroke-width="2.1" fill="none" />
<path d="M820.9 789.1 L824.9 796.1" stroke-width="2.1" fill="none" />
<path d="M825.1 792.9 L829.1 799.9" stroke-width="2.1" fill="none" />
<path d="M829 796.4 L833.6 804" stroke-width="2.1" fill="none" />
<path d="M833.1 800.1 L837.9 807.9" stroke-width="2.1" fill="none" />
<path d="M830 975.5 L842.5 968.5" stroke-width="2.1" fill="none" />
<path d="M829.8 979.1 L842.9 972.7" stroke-width="2.1" fill="none" />
<path d="M830.5 983.8 L842.2 976" stroke-width="2.1" fill="none" />
<path d="M829.8 986.9 L843.1 980.7" stroke-width="2.1" fill="none" />
<path d="M830 991 L843 984.5" stroke-width="2.1" fill="none" />
<path d="M830.1 994.9 L843.1 988.4" stroke-width="2.1" fill="none" />
<path d="M829.8 998.4 L843.6 992.7" stroke-width="2.1" fill="none" />
<path d="M830.4 1002.9 L843.1 996.1" stroke-width="2.1" fill="none" />
<path d="M827 1008 L842 1000.5" stroke-width="3" fill="none" />
</g>
<g transform="translate(-98 479.5)">
<path d="M856 799 C861.3 801.3 860.7 797.3 872 806 C883.3 814.7 879.7 812 890 825 C900.3 838 896.5 833 903 845 C909.5 857 906.8 851 909.5 861 C912.2 871 911.4 867.5 911 875 C910.6 882.5 911.1 877.4 908.4 883.4 C905.7 889.4 906.8 887 903 893 C899.2 899 899 898.6 897 901.4" stroke-width="2.3" fill="#fff" />
<path d="M863.4 805.8 C867.3 809.5 867.5 807.6 875 817 C882.5 826.4 879.7 823.7 886 834 C892.3 844.3 889.5 839 894 848 C898.5 857 896.7 851.3 899.4 861 C902.1 870.7 902 866.5 902 877 C902 887.5 900.3 887.3 899.4 892.4" stroke-width="2" fill="none" />
<path d="M897 901.4 C895 909.3 895.4 908.5 891 925 C886.6 941.5 889 936.7 883.7 951 C878.4 965.3 881.8 958.3 875 968 C868.2 977.7 867.3 976 863.4 980" stroke-width="2.3" fill="#fff" />
<path d="M880 812.5 C881.7 814.2 882.3 814.3 885 817.5 C887.7 820.7 887 820.5 888 822" stroke-width="3.4" fill="none" />
<path d="M858 800 L897 901 L864 980 Z" fill="#fff" stroke="none"/>
<path d="M757.7 726 L766 720.5 L786 730.5 L789 738 L784 741.5" stroke-width="2" fill="#fff" />
<path d="M761 729.5 L781 739.5 L786 735.5" stroke-width="1.6" fill="none" />
<path d="M817 755.5 L826 750.5 L846 761 L848 768 L842 771" stroke-width="2" fill="#fff" />
<path d="M821 759.5 L840 769 L845 765.5" stroke-width="1.6" fill="none" />
<path d="M707 747 L737 722.5 L848 776 L861 800 L861 993 L852 1003.6 L823 1017 L814 1018 L708 954 L702.6 945 Z" fill="#fff" stroke="none"/>
<path d="M707 747.2 C709.9 744.5 712.3 741.9 718 737 C723.7 732.1 724.5 732.3 728.5 729 C732.5 725.7 730.6 726.2 733 724.5 C735.4 722.8 735.1 723 737.5 722.5 C739.9 722 739.6 721.9 742 722.5 C744.4 723.1 745.3 724.1 746.5 724.7" stroke-width="2.3" fill="none" />
<path d="M746.5 724.7 L847.7 776.5" stroke-width="2.3" fill="none" />
<path d="M847.7 776.5 C849.6 778.2 850.2 777 853.5 781.5 C856.8 786 855.3 784.5 857.5 790 C859.7 795.5 858.8 792 860 798 C861.2 804 860.7 804.7 861 808" stroke-width="2.3" fill="none" />
<path d="M861 808 L861 992.4" stroke-width="2.3" fill="none" />
<path d="M861 992.4 C860.2 994.6 861.5 995.3 858.5 999 C855.5 1002.7 854.2 1002.1 852 1003.6" stroke-width="2.3" fill="none" />
<path d="M707 747.2 L702.6 945" stroke-width="2.3" fill="none" />
<path d="M702.6 945 C703.1 947 702.1 948 704 951 C705.9 954 706.8 953 708.2 954" stroke-width="2.3" fill="none" />
<path d="M708.2 954 L814 1018" stroke-width="2.3" fill="none" />
<path d="M814 1018 C815.7 1018.3 816 1019.3 819 1019 C822 1018.7 821.7 1017.7 823 1017" stroke-width="2.3" fill="none" />
<path d="M823 1017 L847.7 1004.8 L852 1003.6" stroke-width="2.3" fill="none" />
<path d="M741 728.5 L760 738.5" stroke-width="1.7" fill="none" />
<path d="M770 743.5 L800 759" stroke-width="1.7" fill="none" />
<path d="M812 765 L842 780.5" stroke-width="1.7" fill="none" />
<path d="M842 780.5 C844.2 782.2 845.3 781 848.5 785.5 C851.7 790 850.3 787.2 851.5 794 C852.7 800.8 852 802 852.2 806" stroke-width="1.8" fill="none" />
<path d="M852.2 806 L852.2 1001" stroke-width="1.8" fill="none" />
<path d="M736 731 L752 739.5" stroke-width="1.6" fill="none" />
<path d="M765 746 L790 759" stroke-width="1.6" fill="none" />
<path d="M806 767 L836 783" stroke-width="1.6" fill="none" />
<path d="M836 783 C838 784.7 839 783.3 842 788 C845 792.7 843.9 790.3 845 797 C846.1 803.7 845.3 804.3 845.4 808" stroke-width="1.8" fill="none" />
<path d="M845.4 808 L846 1003" stroke-width="1.8" fill="none" />
<path d="M707 747.2 C709.3 745.5 709 744.2 714 742 C719 739.8 717.3 740 722 740.5 C726.7 741 726 742.5 728 743.5" stroke-width="3.4" fill="none" />
<path d="M724 736 L728 744.5" stroke-width="1.7" fill="none" />
<path d="M727.6 737.6 L731.6 746.2" stroke-width="1.7" fill="none" />
<path d="M731.2 739.2 L735.2 747.9" stroke-width="1.7" fill="none" />
<path d="M734.8 740.8 L738.8 749.6" stroke-width="1.7" fill="none" />
<path d="M738.4 742.4 L742.4 751.3" stroke-width="1.7" fill="none" />
<path d="M742 744 L746 753" stroke-width="1.7" fill="none" />
<path d="M728.5 752.9 L789.2 785.5" stroke-width="2" fill="none" />
<path d="M800.5 791.5 C803.7 793 804.7 793 810 796 C815.3 799 812.9 796.5 816.5 800.5 C820.1 804.5 819.3 805.5 820.7 808" stroke-width="2" fill="none" />
<path d="M820.7 808 C821.1 838.7 819.8 831.8 822 900 C824.2 968.2 825.6 975.1 827.4 1012.6" stroke-width="2" fill="none" />
<path d="M711.6 754.5 L709.4 944.7" stroke-width="2.1" fill="none" />
<path d="M718.4 756.2 L716.9 948.8" stroke-width="2.1" fill="none" />
<path d="M726.2 758.1 L725.4 953.5" stroke-width="2.1" fill="none" />
<path d="M734.1 759.9 L734 958.2" stroke-width="2.1" fill="none" />
<path d="M742 764.1 L742.6 962.9" stroke-width="2.1" fill="none" />
<path d="M749.8 768.3 L751.1 967.6" stroke-width="2.1" fill="none" />
<path d="M757.7 772.6 L759.7 972.4" stroke-width="2.1" fill="none" />
<path d="M766.7 777.4 L769.3 977.8" stroke-width="2.1" fill="none" />
<path d="M774.6 781.7 L777.9 982.5" stroke-width="2.1" fill="none" />
<path d="M782.5 785.9 L786.5 987.2" stroke-width="2.1" fill="none" />
<path d="M791.5 790.7 L796.2 992.6" stroke-width="2.1" fill="none" />
<path d="M799.3 794.9 L804.7 997.3" stroke-width="2.1" fill="none" />
<path d="M807.2 799.2 L813.3 1002.1" stroke-width="2.1" fill="none" />
<path d="M814.5 809.1 L821.3 1006.4" stroke-width="2.1" fill="none" />
<path d="M798.9 772.9 L806.1 770.1" stroke-width="2.3" fill="none" />
<path d="M802.2 777.6 L808.3 773.3" stroke-width="2.3" fill="none" />
<path d="M804.4 781.2 L811.7 777.5" stroke-width="2.3" fill="none" />
<path d="M807.3 785.4 L814.3 781.1" stroke-width="2.3" fill="none" />
<path d="M809.8 789.3 L817.4 785.1" stroke-width="2.3" fill="none" />
<path d="M812.7 793.6 L820 788.6" stroke-width="2.3" fill="none" />
<path d="M815.1 797.4 L823.1 792.7" stroke-width="2.3" fill="none" />
<path d="M817.5 801.2 L826.3 796.7" stroke-width="2.3" fill="none" />
<path d="M821.3 806.4 L828 799.4" stroke-width="2.3" fill="none" />
<path d="M824 810.4 L830.9 803.2" stroke-width="2.3" fill="none" />
<path d="M826.4 814.3 L834 807.2" stroke-width="2.3" fill="none" />
<path d="M828.9 818.2 L837 811.1" stroke-width="2.3" fill="none" />
<path d="M831 821.6 L840.4 815.5" stroke-width="2.3" fill="none" />
<path d="M833.6 825.6 L843.4 819.4" stroke-width="2.3" fill="none" />
<path d="M811.8 780.8 L817.2 789.2" stroke-width="2.1" fill="none" />
<path d="M815.8 784.4 L821.6 793.2" stroke-width="2.1" fill="none" />
<path d="M820.7 788.9 L825.1 796.3" stroke-width="2.1" fill="none" />
<path d="M824.5 792.3 L829.7 800.5" stroke-width="2.1" fill="none" />
<path d="M829.1 796.5 L833.5 803.9" stroke-width="2.1" fill="none" />
<path d="M832.9 799.9 L838.1 808.1" stroke-width="2.1" fill="none" />
<path d="M831.2 976.7 L841.3 967.3" stroke-width="2.1" fill="none" />
<path d="M831 980.4 L841.6 971.5" stroke-width="2.1" fill="none" />
<path d="M829.8 983 L843 976.7" stroke-width="2.1" fill="none" />
<path d="M830.1 987.1 L842.9 980.4" stroke-width="2.1" fill="none" />
<path d="M831.1 992 L842 983.4" stroke-width="2.1" fill="none" />
<path d="M830.5 995.2 L842.8 988" stroke-width="2.1" fill="none" />
<path d="M831.2 999.9 L842.1 991.3" stroke-width="2.1" fill="none" />
<path d="M830.3 1002.8 L843.2 996.2" stroke-width="2.1" fill="none" />
<path d="M827 1008 L842 1000.5" stroke-width="3" fill="none" />
</g>
<path d="M899.6 342 L896 716" stroke-width="1.8" fill="none" stroke-dasharray="110 5 3 5 160 5 3 5 70 5 3 5"/>
<path d="M896 716 C895 718 897.9 719.1 893 722 C888.1 724.9 885.3 723.8 881.4 724.7" stroke-width="1.7" fill="none" />
<path d="M881.4 724.7 L847.7 747.2" stroke-width="1.7" fill="none" stroke-dasharray="22 4 3 4"/>
<path d="M686.7 1210.6 L738.5 1210.6" stroke-width="2" fill="none" stroke-dasharray="28 5 3 5"/>
<path d="M745.2 1213.5 L736.2 1234.2" stroke-width="2" fill="none" stroke-dasharray="9 4"/>
<path d="M725.4 1209.5 L737.3 1210.6" stroke-width="1.8" fill="none" />
<path d="M789 1427.7 L811.5 1416.4" stroke-width="1.7" fill="none" />
<g transform="translate(0 0)">
<path d="M377.3 1032.3 C381.1 1030.2 381.9 1028.5 388.8 1025.9 C395.7 1023.3 391.8 1024.5 398 1024.5 C404.2 1024.5 397.5 1023 407.4 1025.9 C417.3 1028.8 414.6 1026.4 427.6 1033.1 C440.6 1039.8 435.3 1036.4 446.3 1046 C457.3 1055.6 453.4 1051.3 460.6 1061.8 C467.8 1072.3 463 1067.1 467.8 1077.6 C472.6 1088.1 469.2 1082.4 475 1093.4 C480.8 1104.4 478.9 1099.2 485.1 1110.7 C491.3 1122.2 490.8 1122.2 493.7 1128" stroke-width="2.3" fill="none" />
<path d="M381.6 1034.5 C386.4 1033.1 383.9 1030.2 395.9 1030.2 C407.9 1030.2 402.6 1028.3 417.5 1034.5 C432.4 1040.7 427.1 1037.9 440.5 1048.9 C453.9 1059.9 449.2 1056.6 457.8 1067.6 C466.4 1078.6 463.5 1077.2 466.4 1082" stroke-width="1.7" fill="none" />
<path d="M377.3 1032.3 C381.1 1033.5 377.8 1031.8 388.8 1035.9 C399.8 1040 395.9 1037.4 410.3 1044.6 C424.7 1051.8 418 1047.9 431.9 1057.5 C445.8 1067.1 441.5 1065.2 452 1073.3 C462.5 1081.4 458.2 1078.7 463.5 1081.9 C468.8 1085.1 466.5 1082.6 468 1083" stroke-width="2.1" fill="none" />
<path d="M421 1049.5 C423 1050.7 422.7 1049.7 427 1053 C431.3 1056.3 431.7 1057.3 434 1059.5" stroke-width="3.9" fill="none" />
<path d="M434.8 1058.9 C437.9 1061.9 437.8 1060.8 444 1068 C450.2 1075.2 450.3 1076.3 453.4 1080.5" stroke-width="1.8" fill="none" />
<path d="M473 1109.5 L477.5 1121" stroke-width="2.1" fill="none" />
<path d="M325.6 1021.6 L331 1020.2 L378 1044.5 L379.5 1049.9 L374 1052.6 L366 1049.9 L360.6 1062" stroke-width="2.2" fill="none" />
<path d="M325.6 1021.6 L327 1029.6 L335 1035 L341.7 1053" stroke-width="2.2" fill="none" />
<path d="M327 1029.6 L333 1027 L372 1047.5 L374 1052.6" stroke-width="1.7" fill="none" />
<path d="M333 1027 L336 1036" stroke-width="1.6" fill="none" />
<ellipse cx="349.8" cy="1040.6" rx="4.8" ry="5.6" transform="rotate(-20 349.8 1040.6)" stroke-width="2.1" fill="none" />
<ellipse cx="377" cy="1050" rx="3" ry="3" transform="rotate(0 377 1050)" stroke-width="1.1" fill="#000" />
<path d="M318 1040 L327 1034.5" stroke-width="1.6" fill="none" />
<path d="M320 1044 L336 1035.5" stroke-width="1.5" fill="none" />
<path d="M229.9 1063.3 C231.3 1060.6 231.2 1058.9 235 1053 C238.8 1047.1 237.8 1047.9 244 1041 C250.2 1034.1 253 1031.9 258.2 1027 C263.4 1022.1 260.6 1024.3 263.5 1022.5 C266.4 1020.7 266.1 1020.7 269 1020.2 C271.9 1019.7 271.6 1019.8 274.5 1020.5 C277.4 1021.2 278.3 1022.3 279.7 1023" stroke-width="2.3" fill="none" />
<path d="M279.7 1023 L518.7 1139.3" stroke-width="2.3" fill="none" />
<path d="M518.7 1139.3 C521.8 1142 522.6 1141.3 528 1147.5 C533.4 1153.7 530.7 1151.2 534.9 1158 C539.1 1164.8 537.6 1160.7 540.5 1168 C543.4 1175.3 542.5 1176 543.5 1180" stroke-width="2.3" fill="none" />
<path d="M543.5 1180 L544.3 1363" stroke-width="2.3" fill="none" />
<path d="M229.9 1063.3 C228.9 1080.6 226.9 1115.8 225 1150 C223.1 1184.2 221.3 1217.6 220.4 1234.5" stroke-width="2.3" fill="none" />
<path d="M220.4 1234.5 C220.8 1236.2 220.1 1236.8 221.5 1239.5 C222.9 1242.2 223.5 1241.6 224.5 1242.6" stroke-width="2.3" fill="none" />
<path d="M224.5 1242.6 C234.2 1248.8 263.5 1267.8 283 1280 C302.5 1292.2 322.2 1304 341.7 1316 C361.2 1328 376.6 1339.2 400 1352.2 C423.4 1365.2 468.3 1387.3 482 1394.3" stroke-width="2.3" fill="none" />
<path d="M482 1394.3 L538 1370.6 L544.3 1363" stroke-width="2.3" fill="none" />
<path d="M233 1059 C236.3 1054.8 233.7 1056.2 243 1046.5 C252.3 1036.8 253.2 1036.5 260.9 1030 C268.6 1023.5 262.3 1028 266 1027 C269.7 1026 270 1027 272 1027" stroke-width="1.8" fill="none" />
<path d="M272 1027 L480 1127 L508 1141" stroke-width="2" fill="none" />
<path d="M508 1141 C512.3 1144 514 1143.3 521 1150 C528 1156.7 524.7 1153.7 529 1161 C533.3 1168.3 531.9 1164.3 534 1172 C536.1 1179.7 534.8 1180 535.2 1184" stroke-width="2" fill="none" />
<path d="M535.2 1184 L534 1362" stroke-width="2" fill="none" />
<path d="M514 1140.5 C517.8 1143.5 519.2 1143 525.5 1149.5 C531.8 1156 528.7 1152.8 533 1160 C537.3 1167.2 536.2 1163.3 538.5 1171 C540.8 1178.7 539.5 1179 540 1183" stroke-width="1.7" fill="none" />
<path d="M540 1183 L540 1366" stroke-width="1.7" fill="none" />
<path d="M285 1036 L376.8 1080" stroke-width="1.6" fill="none" />
<path d="M401 1093 L455 1119" stroke-width="1.6" fill="none" />
<path d="M534 1362 C533 1364 534.3 1364.3 531 1368 C527.7 1371.7 526.3 1371.3 524 1373" stroke-width="1.7" fill="none" />
<path d="M246.4 1046.4 L262.6 1033.6" stroke-width="1.8" fill="none" />
<path d="M252.9 1048.3 L266.7 1034.9" stroke-width="1.8" fill="none" />
<path d="M258.8 1049.6 L271.4 1036.8" stroke-width="1.8" fill="none" />
<path d="M263.8 1050 L277 1039.6" stroke-width="1.8" fill="none" />
<path d="M269.2 1050.8 L282.2 1042" stroke-width="1.8" fill="none" />
<path d="M275.2 1052.2 L286.8 1043.8" stroke-width="1.8" fill="none" />
<path d="M281.9 1054.3 L290.7 1044.9" stroke-width="1.8" fill="none" />
<path d="M287.3 1055.1 L295.9 1047.3" stroke-width="1.8" fill="none" />
<path d="M292 1055.2 L301.8 1050.4" stroke-width="1.8" fill="none" />
<path d="M297.9 1056.5 L306.5 1052.3" stroke-width="1.8" fill="none" />
<path d="M303.4 1057.4 L311.6 1054.6" stroke-width="1.8" fill="none" />
<path d="M242.6 1051.6 L254.4 1041.4" stroke-width="1.8" fill="none" />
<path d="M249.6 1053.6 L259.7 1041.7" stroke-width="1.8" fill="none" />
<path d="M255.3 1054.3 L266.3 1043.3" stroke-width="1.8" fill="none" />
<path d="M262.1 1056.1 L271.9 1043.9" stroke-width="1.8" fill="none" />
<path d="M246 1066 L355.2 1124" stroke-width="2" fill="none" />
<path d="M370 1132 L472.5 1179.2" stroke-width="2" fill="none" />
<path d="M478 1183 C480 1184 480.8 1183.7 484 1186 C487.2 1188.3 486.2 1186.3 487.7 1190 C489.2 1193.7 488.2 1194.7 488.5 1197" stroke-width="1.8" fill="none" />
<path d="M488 1205 C487.5 1217.5 485.3 1249.5 485 1280 C484.7 1310.5 485.8 1370 486 1388" stroke-width="2" fill="none" />
<path d="M224.5 1184.6 L330 1241.7 L357 1258" stroke-width="2.2" fill="none" />
<path d="M357 1258 C360.6 1261.4 367.3 1266.6 375 1275 C382.7 1283.4 382.6 1287 395.6 1300 C408.6 1313 422.9 1325.2 440 1340 C457.1 1354.8 472.8 1367 481 1373.8" stroke-width="2.2" fill="none" />
<path d="M355.6 1225.5 L477 1252.5" stroke-width="2.2" fill="none" />
<path d="M359.6 1236.3 L475.5 1298.3" stroke-width="2.2" fill="none" />
<path d="M328 1210 L347 1220 L347 1241 L328 1231Z" stroke-width="2" fill="none" />
<path d="M331 1218 L331 1229" stroke-width="3.7" fill="none" />
<path d="M335 1222 L336 1230" stroke-width="2.8" fill="none" />
<path d="M339 1224 L343 1233 L344 1227" stroke-width="2.3" fill="none" />
<path d="M236.6 1070.2 L229.1 1182.1" stroke-width="2" fill="none" />
<path d="M246.2 1070.1 L239 1187.5" stroke-width="2" fill="none" />
<path d="M255.9 1075.3 L248.9 1192.8" stroke-width="2" fill="none" />
<path d="M265.6 1080.4 L258.8 1198.2" stroke-width="2" fill="none" />
<path d="M275.2 1085.5 L268.7 1203.5" stroke-width="2" fill="none" />
<path d="M284.8 1090.6 L278.6 1208.9" stroke-width="2" fill="none" />
<path d="M294.5 1095.8 L288.5 1214.2" stroke-width="2" fill="none" />
<path d="M304.1 1100.9 L298.4 1219.6" stroke-width="2" fill="none" />
<path d="M313.8 1106 L308.2 1224.9" stroke-width="2" fill="none" />
<path d="M323.4 1111.1 L318.1 1207" stroke-width="2" fill="none" />
<path d="M333.1 1116.3 L328 1207" stroke-width="2" fill="none" />
<path d="M342.7 1121.4 L337.9 1207" stroke-width="2" fill="none" />
<path d="M352.4 1126.5 L349.4 1212.1" stroke-width="2" fill="none" />
<path d="M362 1133.3 L359 1214.3" stroke-width="2" fill="none" />
<path d="M371.7 1137.8 L368.7 1216.4" stroke-width="2" fill="none" />
<path d="M381.3 1142.2 L378.3 1224.6" stroke-width="2" fill="none" />
<path d="M391 1146.7 L388 1226.7" stroke-width="2" fill="none" />
<path d="M400.6 1151.1 L397.6 1228.9" stroke-width="2" fill="none" />
<path d="M410.3 1155.6 L407.3 1231" stroke-width="2" fill="none" />
<path d="M419.9 1160 L416.9 1233.1" stroke-width="2" fill="none" />
<path d="M429.6 1164.4 L426.6 1235.3" stroke-width="2" fill="none" />
<path d="M439.2 1168.9 L436.2 1237.4" stroke-width="2" fill="none" />
<path d="M448.9 1173.3 L445.9 1239.6" stroke-width="2" fill="none" />
<path d="M458.5 1177.8 L455.5 1241.7" stroke-width="2" fill="none" />
<path d="M468.2 1182.2 L465.2 1243.9" stroke-width="2" fill="none" />
<path d="M477.8 1186.7 L474.8 1246" stroke-width="2" fill="none" />
<path d="M272 1217.3 L273.5 1263" stroke-width="1.8" fill="none" />
<path d="M281.4 1222.4 L282.9 1268.9" stroke-width="1.8" fill="none" />
<path d="M290.8 1227.5 L292.3 1274.7" stroke-width="1.8" fill="none" />
<path d="M300.2 1232.6 L301.7 1280.5" stroke-width="1.8" fill="none" />
<path d="M309.6 1237.7 L311.1 1286.4" stroke-width="1.8" fill="none" />
<path d="M319 1242.8 L320.5 1292.2" stroke-width="1.8" fill="none" />
<path d="M328.4 1247.8 L329.9 1298" stroke-width="1.8" fill="none" />
<path d="M337.8 1252.9 L339.3 1303.8" stroke-width="1.8" fill="none" />
<path d="M347.2 1258 L348.7 1309.7" stroke-width="1.8" fill="none" />
<path d="M356.6 1263.1 L358.1 1315.5" stroke-width="1.8" fill="none" />
<path d="M366 1274.4 L367.5 1321.3" stroke-width="1.8" fill="none" />
<path d="M375.4 1283.2 L376.9 1327.2" stroke-width="1.8" fill="none" />
<path d="M384.8 1292 L386.3 1333" stroke-width="1.8" fill="none" />
<path d="M394.2 1300.7 L395.7 1324.8" stroke-width="1.8" fill="none" />
<path d="M403.6 1309.5 L405.1 1330.6" stroke-width="1.8" fill="none" />
<path d="M413 1318.3 L414.5 1336.5" stroke-width="1.8" fill="none" />
<path d="M422.4 1327.1 L423.9 1342.3" stroke-width="1.8" fill="none" />
<path d="M431.8 1335.9 L433.3 1348.1" stroke-width="1.8" fill="none" />
<path d="M441.2 1344.6 L442.7 1354" stroke-width="1.8" fill="none" />
<path d="M226 1187.4 L254.3 1231.1" stroke-width="1.7" fill="none" />
<path d="M232.2 1190.8 L282.3 1268" stroke-width="1.7" fill="none" />
<path d="M238.4 1194.1 L288.5 1271.4" stroke-width="1.7" fill="none" />
<path d="M244.6 1197.5 L294.7 1274.8" stroke-width="1.7" fill="none" />
<path d="M250.8 1200.8 L300.9 1278.1" stroke-width="1.7" fill="none" />
<path d="M257 1204.2 L307.1 1281.5" stroke-width="1.7" fill="none" />
<path d="M263.2 1207.5 L313.3 1284.8" stroke-width="1.7" fill="none" />
<path d="M269.4 1210.9 L319.5 1288.2" stroke-width="1.7" fill="none" />
<path d="M224 1222 L228 1236" stroke-width="1.6" fill="none" />
<path d="M369 1232.5 C370.7 1233.9 371.7 1233.9 374 1236.8 C376.3 1239.6 375.3 1239.6 376 1241.1" stroke-width="1.7" fill="none" />
<path d="M378.2 1234.5 C379.9 1236.5 380.9 1236.5 383.4 1240.4 C385.9 1244.3 384.9 1244.3 385.7 1246.3" stroke-width="1.7" fill="none" />
<path d="M387.4 1236.6 C389.2 1239.1 390.2 1239.1 392.9 1244 C395.6 1249 394.6 1249 395.4 1251.5" stroke-width="1.7" fill="none" />
<path d="M396.6 1238.6 C398.5 1241.6 399.5 1241.6 402.4 1247.6 C405.2 1253.6 404.2 1253.6 405.1 1256.6" stroke-width="1.7" fill="none" />
<path d="M405.8 1240.7 C407.8 1244.2 408.8 1244.2 411.8 1251.2 C414.8 1258.3 413.8 1258.3 414.8 1261.8" stroke-width="1.7" fill="none" />
<path d="M415 1242.7 C417.1 1246.8 418.1 1246.8 421.2 1254.9 C424.4 1263 423.4 1263 424.5 1267" stroke-width="1.7" fill="none" />
<path d="M424.2 1244.8 C426.4 1249.3 427.4 1249.3 430.7 1258.5 C434 1267.6 433 1267.6 434.2 1272.2" stroke-width="1.7" fill="none" />
<path d="M433.4 1246.8 C435.6 1251.9 436.6 1251.9 440.1 1262.1 C443.6 1272.3 442.6 1272.3 443.9 1277.4" stroke-width="1.7" fill="none" />
<path d="M442.6 1248.8 C444.9 1254.5 445.9 1254.5 449.6 1265.7 C453.3 1277 452.3 1277 453.6 1282.6" stroke-width="1.7" fill="none" />
<path d="M451.8 1250.9 C454.2 1257 455.2 1257 459.1 1269.3 C462.9 1281.6 461.9 1281.6 463.3 1287.8" stroke-width="1.7" fill="none" />
<path d="M461 1252.9 C463.5 1259.6 464.5 1259.6 468.5 1273 C472.5 1286.3 471.5 1286.3 473 1293" stroke-width="1.7" fill="none" />
<path d="M470.2 1255 C472.8 1262.2 473.8 1262.2 477.9 1276.6 C482.1 1291 481.1 1291 482.7 1298.2" stroke-width="1.7" fill="none" />
<path d="M377 1250.6 C377.2 1253.3 378.8 1253.3 377.5 1258.8 C376.2 1264.2 374.5 1264.2 373 1266.9" stroke-width="1.7" fill="none" />
<path d="M386 1255.4 C386 1258.6 387.7 1258.6 386 1264.9 C384.3 1271.3 382.7 1271.3 381 1274.4" stroke-width="1.7" fill="none" />
<path d="M395 1260.2 C394.8 1263.8 396.5 1263.8 394.5 1271.1 C392.5 1278.3 390.8 1278.3 389 1281.9" stroke-width="1.7" fill="none" />
<path d="M404 1265.1 C403.7 1269.1 405.3 1269.1 403 1277.2 C400.7 1285.3 399 1285.3 397 1289.4" stroke-width="1.7" fill="none" />
<path d="M413 1269.9 C412.5 1274.4 414.2 1274.4 411.5 1283.4 C408.8 1292.3 407.2 1292.3 405 1296.8" stroke-width="1.7" fill="none" />
<path d="M422 1274.7 C421.3 1279.6 423 1279.6 420 1289.5 C417 1299.4 415.3 1299.4 413 1304.3" stroke-width="1.7" fill="none" />
<path d="M431 1279.5 C430.2 1284.9 431.8 1284.9 428.5 1295.6 C425.2 1306.4 423.5 1306.4 421 1311.8" stroke-width="1.7" fill="none" />
<path d="M440 1284.3 C439 1290.1 440.7 1290.1 437 1301.8 C433.3 1313.4 431.7 1313.4 429 1319.2" stroke-width="1.7" fill="none" />
<path d="M449 1289.1 C447.8 1295.4 449.5 1295.4 445.5 1307.9 C441.5 1320.5 439.8 1320.5 437 1326.7" stroke-width="1.7" fill="none" />
<path d="M458 1293.9 C456.7 1300.7 458.3 1300.7 454 1314.1 C449.7 1327.5 448 1327.5 445 1334.2" stroke-width="1.7" fill="none" />
<path d="M467 1298.8 C465.5 1305.9 467.2 1305.9 462.5 1320.2 C457.8 1334.5 456.2 1334.5 453 1341.7" stroke-width="1.7" fill="none" />
<path d="M476 1303.6 C474.3 1311.2 476 1311.2 471 1326.4 C466 1341.5 464.3 1341.5 461 1349.1" stroke-width="1.7" fill="none" />
<path d="M394 1342.7 L407 1329" stroke-width="2" fill="none" />
<path d="M399.6 1346.2 L412.6 1332.5" stroke-width="2" fill="none" />
<path d="M405.2 1349.9 L418.2 1336.2" stroke-width="2" fill="none" />
<path d="M410.8 1352.7 L423.8 1339.1" stroke-width="2" fill="none" />
<path d="M416.4 1355.6 L429.4 1342" stroke-width="2" fill="none" />
<path d="M422 1358.5 L435 1344.8" stroke-width="2" fill="none" />
<path d="M427.6 1361.4 L440.6 1347.7" stroke-width="2" fill="none" />
<path d="M433.2 1364.2 L446.2 1350.6" stroke-width="2" fill="none" />
<path d="M438.8 1367.1 L451.8 1353.5" stroke-width="2" fill="none" />
<path d="M444.4 1370 L456.5 1357.3" stroke-width="2" fill="none" />
<path d="M450 1372.9 L460.4 1361.9" stroke-width="2" fill="none" />
<path d="M455.6 1375.7 L464.4 1366.5" stroke-width="2" fill="none" />
<path d="M461.2 1378.6 L468.4 1371" stroke-width="2" fill="none" />
<path d="M466.8 1381.5 L472.3 1375.6" stroke-width="2" fill="none" />
<path d="M472.4 1384.3 L476.3 1380.2" stroke-width="2" fill="none" />
<path d="M469.9 1140 L475.4 1137" stroke-width="2.2" fill="none" />
<path d="M473 1143.7 L480.8 1140" stroke-width="2.2" fill="none" />
<path d="M475.3 1147.4 L486.3 1143" stroke-width="2.2" fill="none" />
<path d="M477.4 1151.2 L492 1146" stroke-width="2.2" fill="none" />
<path d="M479.6 1154.9 L499.1 1149" stroke-width="2.2" fill="none" />
<path d="M483.2 1158.6 L503.3 1152" stroke-width="2.2" fill="none" />
<path d="M485.9 1162.3 L508.6 1155" stroke-width="2.2" fill="none" />
<path d="M487.5 1166.1 L515.5 1158" stroke-width="2.2" fill="none" />
<path d="M490.5 1169.8 L519.5 1161" stroke-width="2.2" fill="none" />
<path d="M493.7 1173.5 L525.2 1164" stroke-width="2.2" fill="none" />
<path d="M494 1177.4 L530 1167.2" stroke-width="2.2" fill="none" />
<path d="M494.4 1181.5 L529.1 1170.7" stroke-width="2.2" fill="none" />
<path d="M494.2 1185.7 L528.7 1174.2" stroke-width="2.2" fill="none" />
<path d="M495.5 1189.8 L529 1177.7" stroke-width="2.2" fill="none" />
<path d="M495.8 1193.9 L529.2 1181.2" stroke-width="2.2" fill="none" />
<path d="M495.7 1198.1 L530.4 1184.8" stroke-width="2.2" fill="none" />
<path d="M496.1 1202.2 L529.6 1188.3" stroke-width="2.2" fill="none" />
<path d="M497.1 1206.3 L528.9 1191.8" stroke-width="2.2" fill="none" />
<path d="M495.9 1210.5 L530.3 1195.3" stroke-width="2.2" fill="none" />
<path d="M497.5 1214.6 L529 1198.8" stroke-width="2.2" fill="none" />
<path d="M498.2 1217 L530 1201.8" stroke-width="2.2" fill="none" />
<path d="M502.5 1218.4 L528.9 1204.5" stroke-width="2.2" fill="none" />
<path d="M505.3 1219.9 L530.3 1207.2" stroke-width="2.2" fill="none" />
<path d="M507.4 1221.3 L529.3 1209.9" stroke-width="2.2" fill="none" />
<path d="M509.2 1222.8 L528.6 1212.6" stroke-width="2.2" fill="none" />
<path d="M513.8 1224.2 L529 1215.2" stroke-width="2.2" fill="none" />
<path d="M516 1225.7 L529 1217.9" stroke-width="2.2" fill="none" />
<path d="M519.1 1227.1 L529.7 1220.6" stroke-width="2.2" fill="none" />
<path d="M520.8 1228.6 L528.9 1223.3" stroke-width="2.2" fill="none" />
<path d="M524.4 1230 L528.6 1226" stroke-width="2.2" fill="none" />
<path d="M493.9 1378 L529.6 1366" stroke-width="2.1" fill="none" />
<path d="M497.7 1372.3 L529.7 1360.9" stroke-width="2.1" fill="none" />
<path d="M499.1 1366.6 L530.3 1355.9" stroke-width="2.1" fill="none" />
<path d="M501.5 1360.9 L528.5 1350.8" stroke-width="2.1" fill="none" />
<path d="M504.2 1355.3 L529.4 1345.8" stroke-width="2.1" fill="none" />
<path d="M506.3 1349.6 L528.9 1340.7" stroke-width="2.1" fill="none" />
<path d="M509.5 1343.9 L529.6 1335.7" stroke-width="2.1" fill="none" />
<path d="M511.6 1338.2 L529.2 1330.6" stroke-width="2.1" fill="none" />
<path d="M515.6 1332.5 L530.5 1325.6" stroke-width="2.1" fill="none" />
<path d="M517.7 1326.8 L529.9 1320.5" stroke-width="2.1" fill="none" />
<path d="M519.3 1323.6 L528.8 1317.7" stroke-width="2.1" fill="none" />
<path d="M519 1322.7 L528.5 1317.2" stroke-width="2.1" fill="none" />
<path d="M521.7 1321.9 L529.9 1316.7" stroke-width="2.1" fill="none" />
<path d="M522.6 1321.1 L528.5 1316.2" stroke-width="2.1" fill="none" />
<path d="M522.8 1320.2 L529.5 1315.6" stroke-width="2.1" fill="none" />
<path d="M523.9 1319.4 L529.1 1315.1" stroke-width="2.1" fill="none" />
<path d="M525.2 1318.5 L528.7 1314.6" stroke-width="2.1" fill="none" />
<path d="M525.2 1317.7 L530 1314.1" stroke-width="2.1" fill="none" />
<path d="M526.7 1316.8 L530 1313.5" stroke-width="2.1" fill="none" />
<path d="M527.2 1316 L530.1 1313" stroke-width="2.1" fill="none" />
<path d="M545.6 1150 L567.2 1158 L567.2 1182.4 L552.4 1187.8 L552.4 1352 L566 1370.6 L566 1395.4 L542.3 1383.5 L524 1375" stroke-width="2.2" fill="none" />
<path d="M548.5 1152 L548.5 1186" stroke-width="1.6" fill="none" />
<ellipse cx="556.4" cy="1166.3" rx="4.8" ry="6.4" transform="rotate(-10 556.4 1166.3)" stroke-width="2.1" fill="none" />
<ellipse cx="555.7" cy="1378" rx="4.4" ry="6" transform="rotate(-10 555.7 1378)" stroke-width="2.1" fill="none" />
<path d="M540 1366 L541.5 1383" stroke-width="1.7" fill="none" />
<path d="M534 1377 L541.5 1383.5" stroke-width="3" fill="none" />
</g>
<g transform="translate(0 0)">
<ellipse cx="570.5" cy="804.5" rx="66" ry="45" transform="rotate(40 570.5 804.5)" stroke-width="2.3" fill="#fff" />
<ellipse cx="558" cy="814" rx="66" ry="45" transform="rotate(40 558 814)" stroke-width="2.3" fill="#fff" />
<path d="M591 865.7 C588.9 866.1 589 866.4 584.6 866.9 C580.3 867.4 582.5 867.3 577.9 867.2 C573.2 867.1 575.6 867.3 570.8 866.6 C566 865.9 568.4 866.4 563.4 865.1 C558.5 863.8 561 864.6 556 862.7 C551.1 860.8 553.5 861.9 548.6 859.5 C543.8 857.1 546.1 858.4 541.4 855.5 C536.7 852.6 538.9 854.2 534.5 850.8 C530 847.5 532.1 849.2 527.9 845.5 C523.7 841.8 525.7 843.7 521.9 839.6 C518.1 835.6 519.8 837.6 516.5 833.3 C513.1 829 514.6 831.2 511.8 826.7 C508.9 822.2 510.2 824.4 507.9 819.8 C505.6 815.2 506.6 817.5 504.8 812.9 C503.1 808.2 503.8 810.5 502.7 805.9 C501.6 801.4 502 803.6 501.5 799.2 C501 794.7 501.1 796.8 501.3 792.6 C501.4 788.4 501.2 790.4 502 786.4 C502.8 782.5 502.3 784.3 503.7 780.7 C505.2 777.1 504.3 778.8 506.3 775.6 C508.4 772.4 507.2 773.9 509.9 771.1 C512.5 768.4 511.1 769.6 514.2 767.4 C517.3 765.2 515.7 766.1 519.3 764.4 C522.9 762.8 523.1 763 525 762.3" stroke-width="3" fill="none" />
<path d="M577.4 864.7 C575.6 864.6 575.6 864.8 571.8 864.2 C568 863.7 569.9 864.1 566 863.2 C562.1 862.3 564 862.8 560.1 861.5 C556.2 860.2 558.1 861 554.2 859.3 C550.3 857.6 552.2 858.6 548.3 856.6 C544.4 854.5 546.3 855.6 542.6 853.3 C538.8 851 540.6 852.2 537 849.6 C533.3 846.9 535.1 848.3 531.6 845.4 C528.2 842.5 529.9 844 526.6 840.9 C523.4 837.8 524.9 839.4 522 836 C519 832.7 520.4 834.4 517.8 830.9 C515.1 827.5 516.4 829.2 514 825.6 C511.7 822 512.8 823.8 510.8 820.2 C508.9 816.5 509.7 818.3 508.2 814.7 C506.6 811 507.3 812.8 506.1 809.1 C505 805.5 505.4 807.3 504.7 803.7 C503.9 800.1 504.2 801.8 503.9 798.3 C503.5 794.8 503.6 796.5 503.7 793.2 C503.8 789.8 503.6 791.4 504.2 788.2 C504.7 785.1 504.3 786.6 505.3 783.6 C506.3 780.7 505.7 782.1 507 779.4 C508.4 776.7 507.6 778 509.4 775.6 C511.2 773.2 510.2 774.3 512.3 772.2 C514.5 770.1 514.6 770.3 515.8 769.3" stroke-width="2.1" fill="none" />
<path d="M559.2 858.5 C557.6 857.9 557.6 858 554.5 856.7 C551.4 855.3 552.9 856.1 549.8 854.5 C546.8 852.9 548.3 853.8 545.2 852 C542.2 850.2 543.7 851.1 540.8 849.2 C537.8 847.2 539.3 848.2 536.4 846 C533.6 843.9 535 845 532.3 842.7 C529.6 840.3 530.9 841.5 528.3 839 C525.8 836.6 527 837.8 524.6 835.2 C522.2 832.6 523.4 833.9 521.2 831.2 C519 828.5 520 829.9 518.1 827.1 C516.1 824.3 517 825.7 515.3 822.8 C513.5 820 514.3 821.4 512.8 818.5 C511.3 815.6 512 817 510.8 814.1 C509.5 811.2 510.1 812.7 509.1 809.8 C508.1 806.9 508.5 808.3 507.8 805.4 C507.1 802.6 507.4 804 507 801.2 C506.5 798.4 506.7 799.8 506.5 797 C506.4 794.3 506.4 795.6 506.5 793 C506.7 790.4 506.5 791.7 506.9 789.2 C507.3 786.7 507.1 787.9 507.8 785.6 C508.5 783.2 508 784.3 509 782.2 C510 780 509.4 781 510.7 779 C511.9 777 511.2 778 512.7 776.2 C514.2 774.4 514.3 774.5 515.1 773.6" stroke-width="1.7" fill="none" />
<path d="M510.3 804.2 C510 802.9 509.9 802.8 509.6 800.3 C509.3 797.8 509.4 799 509.3 796.6 C509.2 794.2 509.2 795.4 509.3 793 C509.5 790.7 509.4 791.8 509.8 789.6 C510.2 787.4 509.9 788.5 510.6 786.4 C511.2 784.3 510.8 785.3 511.7 783.3 C512.6 781.4 512.1 782.3 513.2 780.5 C514.4 778.8 513.8 779.6 515.1 778 C516.4 776.4 515.7 777.2 517.3 775.7 C518.8 774.3 518 775 519.8 773.8 C521.5 772.5 520.6 773.1 522.6 772.1 C524.5 771.1 523.5 771.5 525.6 770.7 C527.7 770 526.6 770.3 528.9 769.7 C531.2 769.2 530 769.4 532.4 769 C534.8 768.7 533.6 768.8 536.1 768.7 C538.7 768.6 537.4 768.6 540 768.7 C542.6 768.8 541.3 768.7 544 769 C546.7 769.4 545.4 769.2 548.2 769.7 C550.9 770.3 549.5 770 552.3 770.8 C555.2 771.6 553.8 771.1 556.6 772.1 C559.4 773.1 558 772.6 560.8 773.8 C563.7 775 562.3 774.4 565.1 775.8 C567.9 777.2 566.5 776.4 569.2 778 C572 779.7 572 779.7 573.3 780.6" stroke-width="1.7" fill="none" />
<path d="M592.3 864.5 C591.3 864.6 591.4 864.7 589.3 864.9 C587.3 865.1 588.4 865 586.3 865.1 C584.2 865.2 585.3 865.2 583.1 865.2 C581 865.1 582.1 865.2 579.9 865 C577.8 864.9 578.9 865 576.7 864.7 C574.5 864.4 575.6 864.6 573.3 864.2 C571.1 863.8 572.2 864 570 863.5 C567.7 863 568.9 863.3 566.6 862.6 C564.4 862 565.5 862.3 563.2 861.6 C561 860.8 562.1 861.2 559.8 860.3 C557.6 859.5 558.7 859.9 556.5 859 C554.2 858 555.3 858.5 553.1 857.4 C550.9 856.3 552 856.9 549.8 855.7 C547.6 854.5 548.7 855.1 546.5 853.8 C544.3 852.5 545.4 853.2 543.3 851.8 C541.2 850.4 542.2 851.1 540.1 849.7 C538.1 848.2 539.1 848.9 537.1 847.4 C535 845.8 536 846.6 534.1 845 C532.1 843.3 533.1 844.2 531.2 842.4 C529.3 840.7 530.2 841.6 528.4 839.8 C526.6 838 527.5 838.9 525.7 837.1 C524 835.2 524.8 836.2 523.2 834.3 C521.5 832.4 522.3 833.3 520.8 831.4 C519.2 829.4 519.3 829.4 518.5 828.4" stroke-width="1.8" fill="none" />
<ellipse cx="561.5" cy="814" rx="21" ry="19" transform="rotate(30 561.5 814)" stroke-width="2.1" fill="none" stroke-dasharray="44 8 30 14 20 10"/>
<ellipse cx="558" cy="814.5" rx="14" ry="12.5" transform="rotate(30 558 814.5)" stroke-width="2.5" fill="none" />
<path d="M549 811 C550.3 813.3 549.3 816.7 553 818 C556.7 819.3 555.7 814.3 560 815 C564.3 815.7 564 818.3 566 820" stroke-width="2.5" fill="none" />
<path d="M556 806 C558 807 557.7 808.3 562 809 C566.3 809.7 566.7 808.3 569 808" stroke-width="2.3" fill="none" />
<ellipse cx="569.5" cy="818" rx="3" ry="4" transform="rotate(0 569.5 818)" stroke-width="1.8" fill="none" />
<path d="M550 795 C553.3 794.2 554 792.2 560 792.5 C566 792.8 565.3 794.8 568 796" stroke-width="1.7" fill="none" />
<path d="M577 800 C579 803.3 580.8 802.7 583 810 C585.2 817.3 583.3 818 583.5 822" stroke-width="1.7" fill="none" />
<path d="M552 830 C555.3 832 554.3 835 562 836 C569.7 837 567.7 836.3 575 833 C582.3 829.7 581 828.3 584 826" stroke-width="2.3" fill="none" />
<path d="M543 808 C542.3 811 540.3 811 541 817 C541.7 823 543.7 823 545 826" stroke-width="1.6" fill="none" />
<circle cx="527.2" cy="776.5" r="1.4" fill="#000" stroke="none"/>
<circle cx="537.3" cy="776.3" r="1.4" fill="#000" stroke="none"/>
<circle cx="545.6" cy="775.3" r="1.4" fill="#000" stroke="none"/>
<circle cx="554.7" cy="777.2" r="1.4" fill="#000" stroke="none"/>
<circle cx="523.7" cy="783.1" r="1.4" fill="#000" stroke="none"/>
<circle cx="532.7" cy="783.9" r="1.4" fill="#000" stroke="none"/>
<circle cx="540.9" cy="784.4" r="1.4" fill="#000" stroke="none"/>
<circle cx="549.5" cy="783.1" r="1.4" fill="#000" stroke="none"/>
<circle cx="557.7" cy="784.4" r="1.4" fill="#000" stroke="none"/>
<circle cx="567.6" cy="782.9" r="1.4" fill="#000" stroke="none"/>
<circle cx="519.1" cy="792.0" r="1.4" fill="#000" stroke="none"/>
<circle cx="528.9" cy="791.1" r="1.4" fill="#000" stroke="none"/>
<circle cx="536.1" cy="790.5" r="1.4" fill="#000" stroke="none"/>
<circle cx="545.4" cy="792.2" r="1.4" fill="#000" stroke="none"/>
<circle cx="579.1" cy="790.9" r="1.4" fill="#000" stroke="none"/>
<circle cx="515.7" cy="799.8" r="1.4" fill="#000" stroke="none"/>
<circle cx="523.2" cy="798.4" r="1.4" fill="#000" stroke="none"/>
<circle cx="533.2" cy="798.1" r="1.4" fill="#000" stroke="none"/>
<circle cx="582.9" cy="798.6" r="1.4" fill="#000" stroke="none"/>
<circle cx="518.6" cy="807.2" r="1.4" fill="#000" stroke="none"/>
<circle cx="529.1" cy="807.4" r="1.4" fill="#000" stroke="none"/>
<circle cx="535.5" cy="805.3" r="1.4" fill="#000" stroke="none"/>
<circle cx="588.9" cy="805.6" r="1.4" fill="#000" stroke="none"/>
<circle cx="523.4" cy="815.0" r="1.4" fill="#000" stroke="none"/>
<circle cx="533.1" cy="814.5" r="1.4" fill="#000" stroke="none"/>
<circle cx="593.5" cy="814.4" r="1.4" fill="#000" stroke="none"/>
<circle cx="528.9" cy="821.7" r="1.4" fill="#000" stroke="none"/>
<circle cx="536.5" cy="822.7" r="1.4" fill="#000" stroke="none"/>
<circle cx="588.0" cy="820.8" r="1.4" fill="#000" stroke="none"/>
<circle cx="596.7" cy="821.9" r="1.4" fill="#000" stroke="none"/>
<circle cx="533.3" cy="828.2" r="1.4" fill="#000" stroke="none"/>
<circle cx="584.6" cy="829.4" r="1.4" fill="#000" stroke="none"/>
<circle cx="591.5" cy="829.5" r="1.4" fill="#000" stroke="none"/>
<circle cx="600.9" cy="828.5" r="1.4" fill="#000" stroke="none"/>
<circle cx="536.0" cy="837.2" r="1.4" fill="#000" stroke="none"/>
<circle cx="545.3" cy="837.0" r="1.4" fill="#000" stroke="none"/>
<circle cx="572.1" cy="837.8" r="1.4" fill="#000" stroke="none"/>
<circle cx="580.4" cy="835.7" r="1.4" fill="#000" stroke="none"/>
<circle cx="587.0" cy="836.3" r="1.4" fill="#000" stroke="none"/>
<circle cx="596.5" cy="837.1" r="1.4" fill="#000" stroke="none"/>
<circle cx="549.5" cy="845.0" r="1.4" fill="#000" stroke="none"/>
<circle cx="559.0" cy="844.2" r="1.4" fill="#000" stroke="none"/>
<circle cx="566.3" cy="843.4" r="1.4" fill="#000" stroke="none"/>
<circle cx="576.1" cy="843.4" r="1.4" fill="#000" stroke="none"/>
<circle cx="582.8" cy="844.6" r="1.4" fill="#000" stroke="none"/>
<circle cx="592.4" cy="844.8" r="1.4" fill="#000" stroke="none"/>
<circle cx="600.5" cy="845.1" r="1.4" fill="#000" stroke="none"/>
<circle cx="562.0" cy="851.7" r="1.4" fill="#000" stroke="none"/>
<circle cx="570.6" cy="851.7" r="1.4" fill="#000" stroke="none"/>
<circle cx="579.2" cy="851.3" r="1.4" fill="#000" stroke="none"/>
<circle cx="588.3" cy="852.7" r="1.4" fill="#000" stroke="none"/>
<circle cx="533.2" cy="756.5" r="1.35" fill="#000" stroke="none"/>
<circle cx="541.0" cy="755.8" r="1.35" fill="#000" stroke="none"/>
<circle cx="549.4" cy="756.4" r="1.35" fill="#000" stroke="none"/>
<circle cx="558.0" cy="758.1" r="1.35" fill="#000" stroke="none"/>
<circle cx="566.7" cy="761.1" r="1.35" fill="#000" stroke="none"/>
<circle cx="575.4" cy="765.1" r="1.35" fill="#000" stroke="none"/>
<circle cx="583.7" cy="770.2" r="1.35" fill="#000" stroke="none"/>
<circle cx="591.6" cy="776.2" r="1.35" fill="#000" stroke="none"/>
<circle cx="598.8" cy="782.9" r="1.35" fill="#000" stroke="none"/>
<circle cx="605.2" cy="790.3" r="1.35" fill="#000" stroke="none"/>
<circle cx="610.7" cy="798.1" r="1.35" fill="#000" stroke="none"/>
<circle cx="615.0" cy="806.2" r="1.35" fill="#000" stroke="none"/>
<circle cx="618.2" cy="814.4" r="1.35" fill="#000" stroke="none"/>
<circle cx="620.1" cy="822.5" r="1.35" fill="#000" stroke="none"/>
<circle cx="620.7" cy="830.4" r="1.35" fill="#000" stroke="none"/>
<circle cx="620.1" cy="837.8" r="1.35" fill="#000" stroke="none"/>
<circle cx="618.1" cy="844.5" r="1.35" fill="#000" stroke="none"/>
<circle cx="614.9" cy="850.5" r="1.35" fill="#000" stroke="none"/>
<circle cx="610.5" cy="855.7" r="1.35" fill="#000" stroke="none"/>
<circle cx="605.0" cy="859.8" r="1.35" fill="#000" stroke="none"/>
<circle cx="541.8" cy="752.4" r="1.35" fill="#000" stroke="none"/>
<circle cx="549.9" cy="752.2" r="1.35" fill="#000" stroke="none"/>
<circle cx="558.4" cy="753.4" r="1.35" fill="#000" stroke="none"/>
<circle cx="567.1" cy="755.7" r="1.35" fill="#000" stroke="none"/>
<circle cx="575.8" cy="759.1" r="1.35" fill="#000" stroke="none"/>
<circle cx="584.3" cy="763.7" r="1.35" fill="#000" stroke="none"/>
<circle cx="592.5" cy="769.2" r="1.35" fill="#000" stroke="none"/>
<circle cx="600.1" cy="775.5" r="1.35" fill="#000" stroke="none"/>
<circle cx="606.9" cy="782.6" r="1.35" fill="#000" stroke="none"/>
<circle cx="612.9" cy="790.2" r="1.35" fill="#000" stroke="none"/>
<circle cx="617.8" cy="798.2" r="1.35" fill="#000" stroke="none"/>
<circle cx="621.6" cy="806.3" r="1.35" fill="#000" stroke="none"/>
<circle cx="624.2" cy="814.5" r="1.35" fill="#000" stroke="none"/>
<circle cx="625.6" cy="822.5" r="1.35" fill="#000" stroke="none"/>
<circle cx="625.6" cy="830.2" r="1.35" fill="#000" stroke="none"/>
<circle cx="624.3" cy="837.3" r="1.35" fill="#000" stroke="none"/>
<circle cx="621.7" cy="843.7" r="1.35" fill="#000" stroke="none"/>
<circle cx="618.0" cy="849.3" r="1.35" fill="#000" stroke="none"/>
<circle cx="613.0" cy="854.0" r="1.35" fill="#000" stroke="none"/>
<circle cx="607.1" cy="857.6" r="1.35" fill="#000" stroke="none"/>
</g>
<g transform="translate(0 0)">
<path d="M951 1052 C954.7 1050.8 957.8 1048.3 965 1047.5 C972.2 1046.7 971.5 1050.7 978 1049 C984.5 1047.3 984.1 1041.6 989.4 1041.3 C994.7 1041 992.2 1044.9 998 1047.8 C1003.8 1050.7 1004.1 1047.4 1011 1052 C1017.9 1056.6 1018.8 1054.6 1023.9 1065 C1029 1075.4 1028 1078.3 1030.3 1091 C1032.6 1103.7 1030.8 1103.3 1032.5 1112.5 C1034.2 1121.7 1037.4 1117.9 1036.8 1125.4 C1036.2 1132.9 1034.9 1132.4 1030.3 1140.5 C1025.7 1148.6 1025.9 1148.7 1019.6 1155.6 C1013.3 1162.5 1014.5 1162 1006.6 1166.4 C998.7 1170.8 994.4 1170.5 990 1172" stroke-width="2.3" fill="#fff" />
<ellipse cx="967.5" cy="1111" rx="68" ry="45" transform="rotate(50 967.5 1111)" stroke-width="2.3" fill="#fff" />
<ellipse cx="969" cy="1111.5" rx="61" ry="38.5" transform="rotate(50 969 1111.5)" stroke-width="2" fill="none" />
<ellipse cx="971" cy="1113" rx="53" ry="32" transform="rotate(50 971 1113)" stroke-width="2.1" fill="none" />
<path d="M929 1087 C930.3 1094 928.3 1094.3 933 1108 C937.7 1121.7 935 1116.3 943 1128 C951 1139.7 952.3 1138 957 1143" stroke-width="1.6" fill="none" />
<ellipse cx="966.5" cy="1114" rx="21" ry="18" transform="rotate(35 966.5 1114)" stroke-width="2.3" fill="none" />
<ellipse cx="969" cy="1116" rx="13.5" ry="11.5" transform="rotate(35 969 1116)" stroke-width="2.3" fill="none" />
<path d="M959 1090 C957.7 1092.7 957.7 1093 955 1098 C952.3 1103 952.3 1102.7 951 1105" stroke-width="1.8" fill="none" />
<path d="M967 1089 C970.7 1090.3 971.7 1089.3 978 1093 C984.3 1096.7 983.3 1097.7 986 1100" stroke-width="1.7" fill="none" />
<path d="M994 1105 C995 1108.3 996.7 1109.3 997 1115 C997.3 1120.7 995.7 1119.7 995 1122" stroke-width="1.8" fill="none" />
<path d="M975 1131 C978.7 1130 980.3 1131 986 1128 C991.7 1125 990 1124 992 1122" stroke-width="1.8" fill="none" />
<path d="M978 1049 L984 1062 L982 1070" stroke-width="2.1" fill="none" />
<path d="M989.4 1041.3 L984 1049.5" stroke-width="1.8" fill="none" />
<ellipse cx="993" cy="1046.5" rx="2.4" ry="2.4" transform="rotate(0 993 1046.5)" stroke-width="1.6" fill="none" />
<ellipse cx="1002" cy="1050" rx="2.2" ry="2.2" transform="rotate(0 1002 1050)" stroke-width="1.6" fill="none" />
<path d="M984 1062 C988 1063.7 988 1061.7 996 1067 C1004 1072.3 1000.7 1069.7 1008 1078 C1015.3 1086.3 1012.3 1083.3 1018 1092 C1023.7 1100.7 1021.7 1098 1025 1104 C1028.3 1110 1027 1108 1028 1110" stroke-width="2" fill="none" />
<path d="M1018 1092 L1023 1098 L1029 1094" stroke-width="1.7" fill="none" />
<path d="M1011 1078 C1009.3 1079.3 1007 1078.7 1006 1082 C1005 1085.3 1007.3 1086 1008 1088" stroke-width="2.8" fill="none" />
<path d="M986 1063 L983 1068" stroke-width="2.5" fill="none" />
<path d="M953 1053 L957 1060" stroke-width="3" fill="none" />
<path d="M926 1062 L929 1066" stroke-width="2.3" fill="none" />
<path d="M1020 1118 C1022 1121.3 1024.7 1120 1026 1128 C1027.3 1136 1028 1132.7 1024 1142 C1020 1151.3 1017.3 1151.3 1014 1156" stroke-width="1.8" fill="none" />
<path d="M1026 1128 L1034 1124" stroke-width="1.7" fill="none" />
<path d="M1022 1140 L1030 1137" stroke-width="1.6" fill="none" />
<path d="M1003 1160 C1006 1156.7 1007 1156.7 1012 1150 C1017 1143.3 1016 1143.3 1018 1140" stroke-width="3" fill="none" />
<circle cx="1001.3" cy="1112.3" r="1.35" fill="#000" stroke="none"/>
<circle cx="988.1" cy="1112.7" r="1.35" fill="#000" stroke="none"/>
<circle cx="949.3" cy="1124.6" r="1.35" fill="#000" stroke="none"/>
<circle cx="980.1" cy="1142.3" r="1.35" fill="#000" stroke="none"/>
<circle cx="937.6" cy="1081.7" r="1.35" fill="#000" stroke="none"/>
<circle cx="957.3" cy="1075.4" r="1.35" fill="#000" stroke="none"/>
<circle cx="943.7" cy="1117.7" r="1.35" fill="#000" stroke="none"/>
<circle cx="935.3" cy="1091.6" r="1.35" fill="#000" stroke="none"/>
<circle cx="983.6" cy="1149.8" r="1.35" fill="#000" stroke="none"/>
<circle cx="961.0" cy="1133.6" r="1.35" fill="#000" stroke="none"/>
<circle cx="956.2" cy="1091.4" r="1.35" fill="#000" stroke="none"/>
<circle cx="992.7" cy="1114.3" r="1.35" fill="#000" stroke="none"/>
<circle cx="954.7" cy="1114.8" r="1.35" fill="#000" stroke="none"/>
<circle cx="948.7" cy="1116.4" r="1.35" fill="#000" stroke="none"/>
<circle cx="980.7" cy="1095.9" r="1.35" fill="#000" stroke="none"/>
<circle cx="975.4" cy="1096.6" r="1.35" fill="#000" stroke="none"/>
<circle cx="944.1" cy="1100.6" r="1.35" fill="#000" stroke="none"/>
<circle cx="1002.3" cy="1142.0" r="1.35" fill="#000" stroke="none"/>
<circle cx="971.3" cy="1095.8" r="1.35" fill="#000" stroke="none"/>
<circle cx="939.6" cy="1101.7" r="1.35" fill="#000" stroke="none"/>
<circle cx="956.1" cy="1129.3" r="1.35" fill="#000" stroke="none"/>
<circle cx="954.2" cy="1098.4" r="1.35" fill="#000" stroke="none"/>
</g>
<path d="M877 1166 L893 1150 L896.5 1153.5 L880.5 1169.5Z" stroke-width="2" fill="none" />
<path d="M893 1150 L899 1142 L904 1146 L896.5 1153.5" stroke-width="1.8" fill="none" />
<path d="M899 1142 C900.3 1139.7 898.7 1139.7 903 1135 C907.3 1130.3 907.2 1130 912 1128 C916.8 1126 916.2 1126.7 917.5 1129 C918.8 1131.3 919.2 1130.7 916 1135 C912.8 1139.3 912 1138.3 908 1142 C904 1145.7 905.3 1144.7 904 1146" stroke-width="2" fill="none" />
<g transform="translate(0 0)">
<path d="M865.2 1205.6 C864.3 1203.1 863.3 1202.7 862.6 1198 C861.9 1193.3 862.4 1195.6 863 1191.6 C863.6 1187.6 863.2 1189.2 864.3 1186 C865.4 1182.8 863.9 1185.4 866.3 1181.9 C868.7 1178.4 869.8 1177.6 871.6 1175.4" stroke-width="2.2" fill="none" />
<path d="M869.5 1204.5 C868.9 1202.3 868 1202.3 867.6 1198 C867.2 1193.7 867.4 1195.9 868.4 1191.6 C869.4 1187.3 868.3 1189.7 870.5 1185 C872.7 1180.3 873.4 1180 874.9 1177.5" stroke-width="2.2" fill="none" />
<path d="M871.6 1175.4 L874.9 1177.5" stroke-width="1.8" fill="none" />
<path d="M829.6 1218.5 C829.8 1216.3 829.2 1215.6 830.3 1212 C831.4 1208.4 830.7 1210.4 832.8 1207.7 C834.9 1205 833.6 1206 836.5 1204 C839.4 1202 838 1202.9 841.5 1201.8 C845 1200.7 843.1 1200.9 847 1200.7 C850.9 1200.5 849.6 1200.4 853.3 1201.3 C857 1202.2 855.1 1201.5 858 1203.3 C860.9 1205.1 858.7 1203.3 861.9 1206.7 C865.1 1210.1 864.3 1208.5 867.5 1213.5 C870.7 1218.5 869.4 1217 871.6 1221.8 C873.8 1226.6 872.9 1223.7 874 1228 C875.1 1232.3 874.9 1230.4 874.9 1234.7 C874.9 1239 875.1 1237.4 874 1241 C872.9 1244.6 873.6 1242.7 871.6 1245.5 C869.6 1248.3 870.5 1247.3 868 1249.5 C865.5 1251.7 866.8 1251.2 864.1 1252 C861.4 1252.8 862.5 1252.7 860 1252 C857.5 1251.3 857.7 1250.5 856.5 1249.8" stroke-width="2.4" fill="#fff" />
<path d="M860.5 1206.5 C862.5 1208.2 863.2 1207.7 866.5 1211.5 C869.8 1215.3 868.7 1213.8 870.5 1218 C872.3 1222.2 870.3 1220.3 872 1224 C873.7 1227.7 874.7 1225.3 875.5 1229 C876.3 1232.7 874 1231 874.5 1235 C875 1239 877.3 1237 877 1241 C876.7 1245 876.5 1243.7 873.5 1247 C870.5 1250.3 869.8 1249.7 868 1251" stroke-width="4.6" fill="none" />
<path d="M846.5 1203.5 L852 1204" stroke-width="2.3" fill="none" />
<path d="M790.8 1268.1 L814.5 1245.5 L840 1262 L813.4 1284.3 L795 1284 Z" fill="#fff" stroke="none"/>
<path d="M790.8 1268.1 L814.5 1245.5 L822 1243.5" stroke-width="2.5" fill="none" />
<path d="M813.4 1284.3 L838 1264.5" stroke-width="2.5" fill="none" />
<path d="M790.8 1268.1 C790.4 1269.7 789.5 1269.7 789.5 1273 C789.5 1276.3 789.3 1275 790.8 1278 C792.3 1281 791.3 1279.4 794 1282.1 C796.7 1284.8 795.4 1284.2 799 1286 C802.6 1287.8 801.3 1287.3 804.8 1287.5 C808.3 1287.7 806.6 1287.6 809.5 1286.5 C812.4 1285.4 812.1 1285 813.4 1284.3" stroke-width="2.5" fill="#fff" />
<ellipse cx="801.6" cy="1275.7" rx="6.2" ry="6.8" transform="rotate(-20 801.6 1275.7)" stroke-width="2.3" fill="none" />
<path d="M797.5 1273 C798.3 1274.8 797.5 1276.3 800 1278.5 C802.5 1280.7 803.3 1279.2 805 1279.5" stroke-width="1.6" fill="none" />
<path d="M813.5 1266 C812.8 1263.7 810.7 1263.5 811.5 1259 C812.3 1254.5 811.8 1255.7 816 1252.5 C820.2 1249.3 821.3 1250.5 824 1249.5" stroke-width="2.8" fill="none" />
<path d="M817 1270.5 C820 1269 821.3 1270.2 826 1266 C830.7 1261.8 829.3 1260.7 831 1258" stroke-width="2.5" fill="none" />
<path d="M818 1260 L827 1254.5" stroke-width="1.8" fill="none" />
<path d="M812 1271 C812.5 1273.2 811.5 1276.2 813.5 1277.5 C815.5 1278.8 816.5 1275.8 818 1275" stroke-width="1.7" fill="none" />
<path d="M823.1 1233.6 L843.6 1212.6 L854.4 1217.4 L856 1222 L857.6 1245.5 L838.2 1264.9 L833.9 1255.2 L832.8 1236.8Z" stroke-width="2.5" fill="#fff" />
<path d="M823.1 1233.6 L832.8 1236.8 L854.4 1217.4" stroke-width="2.2" fill="none" />
<path d="M833.5 1234 L852 1217.5" stroke-width="4.1" fill="none" />
<path d="M823.1 1233.6 L822 1243.5 L833 1249" stroke-width="2.3" fill="none" />
<path d="M839.5 1243.5 L840.5 1252" stroke-width="2.3" fill="none" />
<path d="M849 1237 L850 1245.5" stroke-width="2.3" fill="none" />
<path d="M855.5 1236 L858.5 1240 L857 1246" stroke-width="2.1" fill="none" />
</g>
<g transform="translate(0 0)">
<path d="M738.1 1195.8 L749.8 1190.4 L752.5 1186 L774 1171.6 L774 1166.2 L778.5 1163.5 L785.7 1165.3 L791.1 1168.9 L798.3 1168 L803.7 1172.5 L805.5 1179.6 L810.9 1182.3 L811.8 1193.1 L806.4 1193.6 L801 1190.4 L794.7 1194 L765.9 1204.8 L764.1 1209.3 L758.8 1212 L749.8 1210.2 L743.5 1206.6 L738.1 1198.5Z" stroke-width="1.8" fill="#000" />
<path d="M761.4 1187.7 L781.2 1173.4 L784.8 1178.8 L765.9 1190.4Z" stroke-width="0.5" fill="#fff" style="stroke:#fff"/>
<path d="M765.9 1196.7 L789.3 1186.8 L790.2 1192.2 L767.7 1202.1Z" stroke-width="0.5" fill="#fff" style="stroke:#fff"/>
<path d="M800.1 1183.2 L806.4 1186 L806.4 1189.5 L801 1186.8Z" stroke-width="0.5" fill="#fff" style="stroke:#fff"/>
<path d="M741.7 1196.7 L748 1195 L748.9 1197.6 L742.6 1200.3Z" stroke-width="0.5" fill="#fff" style="stroke:#fff"/>
<path d="M750.7 1194 L752.3 1194.3 L755.4 1200.3 L754.2 1200.8Z" stroke-width="0.5" fill="#fff" style="stroke:#fff"/>
<path d="M788.8 1171.2 L791.5 1170.5 L797 1179.5 L798.5 1188 L796 1189 L794.5 1181Z" stroke-width="0.5" fill="#fff" style="stroke:#fff"/>
<path d="M756 1191 L758.5 1189.8 L762 1202 L760 1203Z" stroke-width="0.5" fill="#fff" style="stroke:#fff"/>
</g>
<g transform="translate(0 0)">
<path d="M425.3 943.6 L393 976 L392 997 L416.7 995.4 L453.3 957.6 Z" fill="#fff" stroke="none"/>
<path d="M425.3 943.6 L393 976" stroke-width="2.6" fill="none" />
<path d="M453.3 957.6 L416.7 995.4" stroke-width="2.6" fill="none" />
<path d="M393 976 C392.7 977.2 391.6 979.6 391.5 982 C391.4 984.4 392.5 985.8 392.6 988 C392.7 990.2 391.7 991.1 392 993 C392.3 994.9 392.6 997.3 394 997.5 C395.4 997.7 397 994.4 399 994.2 C401 994 401.8 996.6 404 996.5 C406.2 996.4 407.5 993.8 410 993.6 C412.5 993.4 415.4 995 416.7 995.4" stroke-width="2.5" fill="none" />
<path d="M396 983 C397.7 983.5 398 982.5 401 984.5 C404 986.5 404 986.2 405 989 C406 991.8 404.3 991.7 404 993" stroke-width="1.7" fill="none" />
<path d="M403.7 970.6 C406.1 971.7 407.1 970.9 411 974 C414.9 977.1 413.3 975.8 415.5 980 C417.7 984.2 417 984.5 417.7 986.7" stroke-width="2.5" fill="none" />
<path d="M400 974 C402.3 975.3 403 974.7 407 978 C411 981.3 409.8 980 412 984 C414.2 988 413 988 413.5 990" stroke-width="1.8" fill="none" />
<path d="M396.5 978.5 C398.3 979.3 398.7 978.3 402 981 C405.3 983.7 404.5 982.7 406.5 986.5 C408.5 990.3 407.5 990.5 408 992.5" stroke-width="3" fill="none" />
<path d="M413 966 C414 964 412.7 963 416 960 C419.3 957 418.7 957 423 957 C427.3 957 427.3 956.7 429 960 C430.7 963.3 430.7 963.3 428 967 C425.3 970.7 425.7 970.3 421 971 C416.3 971.7 416.3 969.7 414 969" stroke-width="2.2" fill="none" />
<path d="M421 962 L440 949" stroke-width="2" fill="none" />
<path d="M436 944.5 L441 956" stroke-width="1.8" fill="none" />
<path d="M431 952 L437 957.5" stroke-width="1.7" fill="none" />
<path d="M457.6 910 C460.4 911 460.9 909.3 466 913 C471.1 916.7 469 913.7 473 921 C477 928.3 477 926 478 935 C479 944 479.3 941.3 476 948 C472.7 954.7 473.4 951.8 468 955 C462.6 958.2 462.5 956.7 459.8 957.6" stroke-width="2.9" fill="#fff" />
<path d="M462 921 C464.3 924 465.8 923 469 930 C472.2 937 471.8 935 471.5 942 C471.2 949 469.2 948 468 951" stroke-width="2.2" fill="none" />
<path d="M456 927 C458.2 929.7 459.5 929 462.5 935 C465.5 941 465 939.2 465 945 C465 950.8 463.3 950 462.5 952.5" stroke-width="2.2" fill="none" />
<path d="M444.7 926.4 C447.7 924.7 447.6 925.5 452 930 C456.4 934.5 455.4 931.3 458 940 C460.6 948.7 461.8 952.2 459.8 956 C457.8 959.8 456.3 955.7 452 951.5 C447.7 947.3 450 949 447 943.5 C444 938 443.8 940.7 443 935 C442.2 929.3 441.7 928.1 444.7 926.4Z" stroke-width="1.8" fill="#000" />
<path d="M445 944 C446.7 945.7 448.7 944.8 450 949 C451.3 953.2 449.3 954 449 956.5" stroke-width="2" fill="none" />
<path d="M440 946 C441.5 948 443.3 947.8 444.5 952 C445.7 956.2 443.8 956.3 443.5 958.5" stroke-width="1.8" fill="none" />
<path d="M426 944 C428 943 428.3 941.8 432 941 C435.7 940.2 435.3 941.3 437 941.5" stroke-width="1.8" fill="none" />
<path d="M428 913 C429.7 908.8 429 909.8 432 908.5 C435 907.2 434.8 906.5 437 909 C439.2 911.5 438.8 910.7 438.5 916 C438.2 921.3 438.8 920 436 925 C433.2 930 433.2 929.3 430 931 C426.8 932.7 427.5 933.3 426.5 930 C425.5 926.7 426.5 926.7 427 921 C427.5 915.3 426.3 917.2 428 913Z" stroke-width="2.6" fill="#fff" />
<path d="M432 912 C431.7 914.7 430.7 915.3 431 920 C431.3 924.7 432.3 924 433 926" stroke-width="1.5" fill="none" />
<path d="M436 925 L445 926 L452 932 L447 938 L438 933 L430 931 Z" fill="#000" stroke-width="1.5"/>
<path d="M438 909 L451 908.5 L462 905 L470 898.5 L478 898 L480 903 L475 907 L481 911 L486 907 L487.5 912 L483 921 L478 929" stroke-width="2.8" fill="none" />
<path d="M462 905 L470 899 L478 898 L480 903 L475 907 L481 911 L486 907 L487.5 912 L483 921 L477 915 L470 910 Z" fill="#000" stroke-width="1.5"/>
<ellipse cx="472.5" cy="902.5" rx="2.2" ry="1.5" transform="rotate(-35 472.5 902.5)" stroke-width="0.7" fill="#fff" style="stroke:#fff"/>
<ellipse cx="474.5" cy="921" rx="1.6" ry="3.6" transform="rotate(-15 474.5 921)" stroke-width="0.7" fill="#fff" style="stroke:#fff"/>
<path d="M440 913 L445 922 L454 921.5" stroke-width="2.5" fill="none" />
<path d="M446 910.5 L448.5 918" stroke-width="3" fill="none" />
<path d="M454 909 C456.7 910 458 911.7 462 912 C466 912.3 464.7 910.7 466 910" stroke-width="2.1" fill="none" />
</g>
</g>
</svg>
</body></html>
